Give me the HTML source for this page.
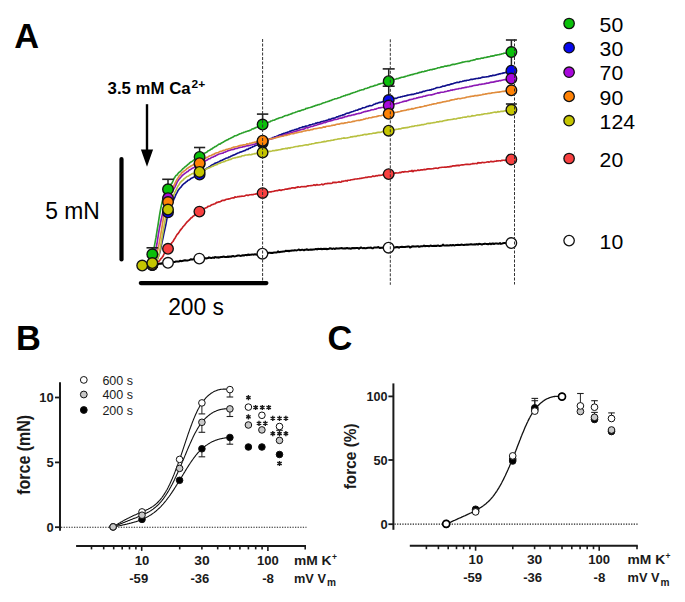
<!DOCTYPE html>
<html><head><meta charset="utf-8"><style>
html,body{margin:0;padding:0;background:#fff;width:685px;height:602px;overflow:hidden;position:relative}
</style></head><body>
<svg width="685" height="602" viewBox="0 0 685 602" style="position:absolute;left:0;top:0">
<rect width="685" height="602" fill="#fff"/>
<text x="14.2" y="47.6" font-family="'Liberation Sans', sans-serif" font-weight="bold" font-size="34.4">A</text>
<text x="16" y="349.9" font-family="'Liberation Sans', sans-serif" font-weight="bold" font-size="34.4">B</text>
<text x="327.5" y="349.7" font-family="'Liberation Sans', sans-serif" font-weight="bold" font-size="34.4">C</text>
<path d="M140.0,266.0 L141.0,266.0 L142.0,266.1 L143.0,265.9 L144.0,265.7 L145.0,265.9 L146.0,266.0 L147.0,265.8 L148.0,265.3 L149.0,265.0 L150.0,265.1 L151.0,265.1 L152.0,264.4 L153.0,264.8 L154.0,264.3 L155.0,264.2 L156.0,264.0 L157.0,263.9 L158.0,263.9 L159.0,263.9 L160.0,263.5 L161.0,263.8 L162.0,263.2 L163.0,263.4 L164.0,263.4 L165.0,263.1 L166.0,262.8 L167.0,262.7 L168.0,262.7 L169.0,262.7 L170.0,262.3 L171.0,262.3 L172.0,262.2 L173.0,262.2 L174.0,262.0 L175.0,261.9 L176.0,261.4 L177.0,261.4 L178.0,261.5 L179.0,261.5 L180.0,260.7 L181.0,261.2 L182.0,261.1 L183.0,260.8 L184.0,260.5 L185.0,260.2 L186.0,260.5 L187.0,260.5 L188.0,260.4 L189.0,260.1 L190.0,259.7 L191.0,259.2 L192.0,259.4 L193.0,259.4 L194.0,258.8 L195.0,259.1 L196.0,259.0 L197.0,259.0 L198.0,258.4 L199.0,258.5 L200.0,258.4 L201.0,258.2 L202.0,258.8 L203.0,258.2 L204.0,258.3 L205.0,258.1 L206.0,258.5 L207.0,258.3 L208.0,258.1 L209.0,257.3 L210.0,257.8 L211.0,257.9 L212.0,257.9 L213.0,257.4 L214.0,258.0 L215.0,257.1 L216.0,257.2 L217.0,257.6 L218.0,257.3 L219.0,257.7 L220.0,257.2 L221.0,257.0 L222.0,257.0 L223.0,256.7 L224.0,256.6 L225.0,257.0 L226.0,256.9 L227.0,257.0 L228.0,256.5 L229.0,257.0 L230.0,256.4 L231.0,256.8 L232.0,256.2 L233.0,256.1 L234.0,256.3 L235.0,256.4 L236.0,256.1 L237.0,255.8 L238.0,255.5 L239.0,255.4 L240.0,255.8 L241.0,255.9 L242.0,255.5 L243.0,255.2 L244.0,255.6 L245.0,255.0 L246.0,255.0 L247.0,255.3 L248.0,254.5 L249.0,255.0 L250.0,254.7 L251.0,254.8 L252.0,254.6 L253.0,254.6 L254.0,254.7 L255.0,254.2 L256.0,254.7 L257.0,254.4 L258.0,254.3 L259.0,254.3 L260.0,254.1 L261.0,254.0 L262.0,253.8 L263.0,253.3 L264.0,253.5 L265.0,253.3 L266.0,253.0 L267.0,253.3 L268.0,253.0 L269.0,252.8 L270.0,252.7 L271.0,252.9 L272.0,252.8 L273.0,252.9 L274.0,252.5 L275.0,252.6 L276.0,252.6 L277.0,252.4 L278.0,251.4 L279.0,252.2 L280.0,251.9 L281.0,251.8 L282.0,251.7 L283.0,251.6 L284.0,251.5 L285.0,251.2 L286.0,250.7 L287.0,251.1 L288.0,250.8 L289.0,251.2 L290.0,250.8 L291.0,250.8 L292.0,250.5 L293.0,250.5 L294.0,250.5 L295.0,250.1 L296.0,250.4 L297.0,250.2 L298.0,249.9 L299.0,249.5 L300.0,250.2 L301.0,249.9 L302.0,249.8 L303.0,249.8 L304.0,250.3 L305.0,249.7 L306.0,249.7 L307.0,249.3 L308.0,250.0 L309.0,249.8 L310.0,249.8 L311.0,249.5 L312.0,249.7 L313.0,249.5 L314.0,249.5 L315.0,249.3 L316.0,248.9 L317.0,249.5 L318.0,248.7 L319.0,249.1 L320.0,249.0 L321.0,248.8 L322.0,249.2 L323.0,248.9 L324.0,248.8 L325.0,249.0 L326.0,248.8 L327.0,249.2 L328.0,248.9 L329.0,248.7 L330.0,248.3 L331.0,248.4 L332.0,249.0 L333.0,248.6 L334.0,248.6 L335.0,249.0 L336.0,248.3 L337.0,248.4 L338.0,248.4 L339.0,248.6 L340.0,248.3 L341.0,248.3 L342.0,248.0 L343.0,248.6 L344.0,248.6 L345.0,248.2 L346.0,248.4 L347.0,248.0 L348.0,248.2 L349.0,248.6 L350.0,248.3 L351.0,248.8 L352.0,248.0 L353.0,248.3 L354.0,248.1 L355.0,248.3 L356.0,248.1 L357.0,248.0 L358.0,247.9 L359.0,248.8 L360.0,248.0 L361.0,247.5 L362.0,247.9 L363.0,248.2 L364.0,247.9 L365.0,248.3 L366.0,248.2 L367.0,247.9 L368.0,247.8 L369.0,247.7 L370.0,247.7 L371.0,247.5 L372.0,248.2 L373.0,248.3 L374.0,247.5 L375.0,247.5 L376.0,247.4 L377.0,247.6 L378.0,247.0 L379.0,247.5 L380.0,248.1 L381.0,247.6 L382.0,247.9 L383.0,247.5 L384.0,248.1 L385.0,247.7 L386.0,247.5 L387.0,248.2 L388.0,247.4 L389.0,247.2 L390.0,247.5 L391.0,247.4 L392.0,247.7 L393.0,247.1 L394.0,247.5 L395.0,247.5 L396.0,247.1 L397.0,247.3 L398.0,247.0 L399.0,247.7 L400.0,247.0 L401.0,247.0 L402.0,246.8 L403.0,246.9 L404.0,247.0 L405.0,247.1 L406.0,246.8 L407.0,246.8 L408.0,246.5 L409.0,246.6 L410.0,247.5 L411.0,247.0 L412.0,246.5 L413.0,246.3 L414.0,246.4 L415.0,246.6 L416.0,246.6 L417.0,246.3 L418.0,246.2 L419.0,246.8 L420.0,246.5 L421.0,246.3 L422.0,246.3 L423.0,246.2 L424.0,245.5 L425.0,246.3 L426.0,245.9 L427.0,245.9 L428.0,246.0 L429.0,246.3 L430.0,245.8 L431.0,245.6 L432.0,246.1 L433.0,246.1 L434.0,245.7 L435.0,246.0 L436.0,245.7 L437.0,245.9 L438.0,245.4 L439.0,245.9 L440.0,246.0 L441.0,245.8 L442.0,245.7 L443.0,244.6 L444.0,245.6 L445.0,245.5 L446.0,245.4 L447.0,245.3 L448.0,245.4 L449.0,245.4 L450.0,245.2 L451.0,245.1 L452.0,245.5 L453.0,244.9 L454.0,245.4 L455.0,245.2 L456.0,244.9 L457.0,245.0 L458.0,244.8 L459.0,245.1 L460.0,245.0 L461.0,244.8 L462.0,244.6 L463.0,244.9 L464.0,245.0 L465.0,244.7 L466.0,244.8 L467.0,244.6 L468.0,244.7 L469.0,244.5 L470.0,244.6 L471.0,244.1 L472.0,244.6 L473.0,244.4 L474.0,244.5 L475.0,244.3 L476.0,244.4 L477.0,244.0 L478.0,244.6 L479.0,243.8 L480.0,243.9 L481.0,244.2 L482.0,244.5 L483.0,244.1 L484.0,244.0 L485.0,243.6 L486.0,243.9 L487.0,243.9 L488.0,244.3 L489.0,244.0 L490.0,243.4 L491.0,244.3 L492.0,243.6 L493.0,243.5 L494.0,244.0 L495.0,243.6 L496.0,243.5 L497.0,243.6 L498.0,243.7 L499.0,243.7 L500.0,243.1 L501.0,243.9 L502.0,243.6 L503.0,243.2 L504.0,243.1 L505.0,243.0 L506.0,243.2 L507.0,243.0 L508.0,242.9 L509.0,243.3 L510.0,243.1 L511.0,242.9 L511.3,243.2" fill="none" stroke="#000000" stroke-width="2.0" stroke-linejoin="round"/>
<path d="M140.0,266.1 L141.0,266.2 L142.0,266.1 L143.0,265.6 L144.0,266.2 L145.0,266.0 L146.0,265.7 L147.0,266.0 L148.0,265.9 L149.0,265.8 L150.0,265.7 L151.0,265.7 L152.0,265.3 L153.0,265.3 L154.0,264.8 L155.0,264.5 L156.0,263.7 L157.0,262.9 L158.0,262.0 L159.0,261.1 L160.0,260.0 L161.0,258.6 L162.0,257.6 L163.0,256.3 L164.0,254.0 L165.0,252.8 L166.0,251.7 L167.0,250.2 L168.0,248.9 L169.0,247.3 L170.0,246.3 L171.0,243.9 L172.0,242.5 L173.0,241.5 L174.0,239.6 L175.0,238.2 L176.0,236.4 L177.0,234.7 L178.0,233.7 L179.0,232.3 L180.0,230.6 L181.0,229.4 L182.0,228.2 L183.0,226.8 L184.0,225.7 L185.0,224.6 L186.0,223.3 L187.0,222.0 L188.0,221.2 L189.0,220.2 L190.0,219.1 L191.0,217.9 L192.0,217.4 L193.0,216.2 L194.0,215.7 L195.0,214.4 L196.0,214.2 L197.0,213.2 L198.0,212.2 L199.0,211.8 L200.0,211.2 L201.0,210.7 L202.0,209.8 L203.0,209.1 L204.0,208.9 L205.0,208.2 L206.0,207.8 L207.0,207.4 L208.0,206.3 L209.0,206.3 L210.0,206.0 L211.0,205.2 L212.0,204.6 L213.0,204.5 L214.0,204.0 L215.0,203.7 L216.0,203.0 L217.0,202.3 L218.0,202.3 L219.0,201.8 L220.0,201.8 L221.0,201.3 L222.0,200.5 L223.0,200.2 L224.0,200.4 L225.0,200.1 L226.0,199.4 L227.0,199.3 L228.0,199.1 L229.0,198.9 L230.0,198.7 L231.0,198.3 L232.0,198.0 L233.0,197.8 L234.0,197.9 L235.0,196.8 L236.0,197.2 L237.0,197.0 L238.0,196.5 L239.0,196.8 L240.0,196.3 L241.0,196.5 L242.0,196.1 L243.0,196.2 L244.0,196.1 L245.0,195.8 L246.0,195.3 L247.0,195.0 L248.0,195.6 L249.0,195.0 L250.0,194.7 L251.0,194.8 L252.0,194.5 L253.0,194.7 L254.0,194.3 L255.0,194.2 L256.0,193.9 L257.0,194.0 L258.0,193.5 L259.0,193.8 L260.0,193.9 L261.0,193.0 L262.0,192.6 L263.0,193.2 L264.0,193.5 L265.0,192.5 L266.0,192.3 L267.0,192.6 L268.0,192.0 L269.0,192.0 L270.0,191.8 L271.0,191.9 L272.0,191.5 L273.0,191.5 L274.0,191.2 L275.0,190.9 L276.0,190.8 L277.0,190.5 L278.0,190.6 L279.0,190.1 L280.0,189.9 L281.0,190.4 L282.0,189.9 L283.0,189.7 L284.0,189.7 L285.0,189.3 L286.0,189.1 L287.0,189.1 L288.0,188.9 L289.0,188.4 L290.0,188.7 L291.0,188.2 L292.0,187.9 L293.0,187.8 L294.0,187.8 L295.0,188.1 L296.0,187.3 L297.0,187.5 L298.0,186.8 L299.0,187.1 L300.0,187.2 L301.0,186.8 L302.0,186.6 L303.0,186.7 L304.0,186.6 L305.0,186.5 L306.0,186.7 L307.0,186.1 L308.0,185.8 L309.0,185.8 L310.0,185.7 L311.0,185.6 L312.0,185.5 L313.0,185.4 L314.0,184.8 L315.0,185.4 L316.0,184.9 L317.0,184.6 L318.0,185.0 L319.0,185.0 L320.0,184.7 L321.0,184.5 L322.0,184.1 L323.0,184.9 L324.0,184.3 L325.0,183.7 L326.0,183.6 L327.0,183.7 L328.0,183.2 L329.0,183.5 L330.0,183.2 L331.0,183.5 L332.0,183.3 L333.0,182.2 L334.0,182.7 L335.0,182.2 L336.0,182.7 L337.0,182.3 L338.0,182.2 L339.0,181.7 L340.0,182.2 L341.0,182.1 L342.0,181.2 L343.0,181.4 L344.0,181.0 L345.0,181.0 L346.0,180.5 L347.0,181.1 L348.0,180.2 L349.0,180.2 L350.0,180.3 L351.0,179.8 L352.0,179.7 L353.0,179.5 L354.0,179.4 L355.0,179.0 L356.0,179.0 L357.0,178.9 L358.0,178.7 L359.0,178.7 L360.0,178.4 L361.0,178.5 L362.0,178.1 L363.0,178.0 L364.0,177.7 L365.0,177.6 L366.0,177.2 L367.0,177.5 L368.0,177.0 L369.0,176.9 L370.0,177.0 L371.0,176.9 L372.0,176.5 L373.0,175.9 L374.0,176.4 L375.0,176.2 L376.0,175.6 L377.0,176.0 L378.0,175.5 L379.0,175.2 L380.0,175.4 L381.0,175.2 L382.0,175.1 L383.0,174.5 L384.0,175.2 L385.0,174.5 L386.0,174.1 L387.0,174.5 L388.0,174.1 L389.0,174.1 L390.0,173.8 L391.0,173.8 L392.0,173.7 L393.0,173.3 L394.0,173.5 L395.0,173.1 L396.0,172.9 L397.0,173.0 L398.0,173.0 L399.0,172.7 L400.0,172.4 L401.0,172.6 L402.0,171.9 L403.0,171.9 L404.0,172.1 L405.0,171.6 L406.0,171.8 L407.0,171.7 L408.0,171.8 L409.0,171.2 L410.0,171.1 L411.0,171.3 L412.0,170.4 L413.0,171.7 L414.0,170.6 L415.0,170.5 L416.0,170.8 L417.0,170.4 L418.0,169.9 L419.0,170.4 L420.0,170.3 L421.0,169.8 L422.0,169.8 L423.0,169.8 L424.0,169.4 L425.0,169.6 L426.0,169.4 L427.0,169.1 L428.0,168.8 L429.0,168.9 L430.0,168.7 L431.0,169.0 L432.0,168.7 L433.0,168.7 L434.0,168.4 L435.0,168.3 L436.0,168.0 L437.0,168.2 L438.0,168.4 L439.0,167.7 L440.0,167.5 L441.0,167.5 L442.0,167.3 L443.0,167.2 L444.0,167.2 L445.0,167.0 L446.0,167.3 L447.0,166.9 L448.0,166.8 L449.0,166.9 L450.0,166.4 L451.0,166.7 L452.0,166.1 L453.0,165.9 L454.0,165.9 L455.0,165.9 L456.0,165.4 L457.0,165.7 L458.0,165.1 L459.0,165.8 L460.0,165.3 L461.0,165.0 L462.0,164.8 L463.0,164.9 L464.0,164.8 L465.0,164.5 L466.0,164.4 L467.0,164.4 L468.0,164.2 L469.0,164.5 L470.0,164.4 L471.0,164.0 L472.0,164.0 L473.0,163.4 L474.0,163.8 L475.0,163.5 L476.0,163.5 L477.0,163.7 L478.0,162.6 L479.0,163.1 L480.0,162.7 L481.0,163.0 L482.0,162.4 L483.0,162.5 L484.0,162.6 L485.0,162.5 L486.0,162.3 L487.0,162.0 L488.0,161.9 L489.0,162.1 L490.0,161.8 L491.0,161.3 L492.0,161.8 L493.0,161.6 L494.0,161.6 L495.0,161.2 L496.0,161.3 L497.0,160.7 L498.0,161.0 L499.0,160.7 L500.0,160.8 L501.0,160.8 L502.0,160.3 L503.0,160.3 L504.0,160.2 L505.0,160.4 L506.0,160.2 L507.0,159.6 L508.0,159.9 L509.0,159.8 L510.0,160.1 L511.0,159.0 L511.3,159.3" fill="none" stroke="#c81e23" stroke-width="1.65" stroke-linejoin="round"/>
<path d="M140.0,266.0 L141.0,265.9 L142.0,265.9 L143.0,265.6 L144.0,266.2 L145.0,266.0 L146.0,265.8 L147.0,265.9 L148.0,265.7 L149.0,265.5 L150.0,265.6 L151.0,265.3 L152.0,265.0 L153.0,264.6 L154.0,264.3 L155.0,263.6 L156.0,262.3 L157.0,260.1 L158.0,257.7 L159.0,254.9 L160.0,251.7 L161.0,247.1 L162.0,242.4 L163.0,237.8 L164.0,232.9 L165.0,228.5 L166.0,223.8 L167.0,218.1 L168.0,213.7 L169.0,210.7 L170.0,208.5 L171.0,206.0 L172.0,203.7 L173.0,201.4 L174.0,199.0 L175.0,196.8 L176.0,194.4 L177.0,192.6 L178.0,190.6 L179.0,189.3 L180.0,188.0 L181.0,187.1 L182.0,185.6 L183.0,184.5 L184.0,183.6 L185.0,183.0 L186.0,182.0 L187.0,181.4 L188.0,180.2 L189.0,180.0 L190.0,179.4 L191.0,178.4 L192.0,178.0 L193.0,177.6 L194.0,176.9 L195.0,176.5 L196.0,176.2 L197.0,175.4 L198.0,174.8 L199.0,174.1 L200.0,173.7 L201.0,172.9 L202.0,172.2 L203.0,171.5 L204.0,170.8 L205.0,169.8 L206.0,168.9 L207.0,168.0 L208.0,167.8 L209.0,167.0 L210.0,166.5 L211.0,165.7 L212.0,165.0 L213.0,164.6 L214.0,164.0 L215.0,163.3 L216.0,162.9 L217.0,162.8 L218.0,162.1 L219.0,161.7 L220.0,161.1 L221.0,160.6 L222.0,160.3 L223.0,159.7 L224.0,159.2 L225.0,158.8 L226.0,158.3 L227.0,158.0 L228.0,157.7 L229.0,157.0 L230.0,156.9 L231.0,156.1 L232.0,155.8 L233.0,155.2 L234.0,154.9 L235.0,154.5 L236.0,154.0 L237.0,153.5 L238.0,153.1 L239.0,152.7 L240.0,152.1 L241.0,151.9 L242.0,151.6 L243.0,151.2 L244.0,150.8 L245.0,150.6 L246.0,149.9 L247.0,149.3 L248.0,149.3 L249.0,148.4 L250.0,148.3 L251.0,147.5 L252.0,147.3 L253.0,146.5 L254.0,146.4 L255.0,145.8 L256.0,145.2 L257.0,145.1 L258.0,144.4 L259.0,143.8 L260.0,143.1 L261.0,142.7 L262.0,142.2 L263.0,141.9 L264.0,141.5 L265.0,140.9 L266.0,140.4 L267.0,140.0 L268.0,139.5 L269.0,139.2 L270.0,138.8 L271.0,138.5 L272.0,138.2 L273.0,137.5 L274.0,137.3 L275.0,136.8 L276.0,136.8 L277.0,136.1 L278.0,135.8 L279.0,135.2 L280.0,134.8 L281.0,134.6 L282.0,134.1 L283.0,133.9 L284.0,133.2 L285.0,133.2 L286.0,132.6 L287.0,132.7 L288.0,132.0 L289.0,131.9 L290.0,131.1 L291.0,131.1 L292.0,130.5 L293.0,130.2 L294.0,130.0 L295.0,129.6 L296.0,129.4 L297.0,129.1 L298.0,128.8 L299.0,128.3 L300.0,127.8 L301.0,127.6 L302.0,127.3 L303.0,126.7 L304.0,126.9 L305.0,126.4 L306.0,126.1 L307.0,126.0 L308.0,125.7 L309.0,125.3 L310.0,124.8 L311.0,124.8 L312.0,124.5 L313.0,124.0 L314.0,124.0 L315.0,123.7 L316.0,123.0 L317.0,123.1 L318.0,122.6 L319.0,122.7 L320.0,122.4 L321.0,121.8 L322.0,121.5 L323.0,121.4 L324.0,121.1 L325.0,121.0 L326.0,120.6 L327.0,120.2 L328.0,120.0 L329.0,119.3 L330.0,119.3 L331.0,119.1 L332.0,118.6 L333.0,118.2 L334.0,118.1 L335.0,118.0 L336.0,117.4 L337.0,116.8 L338.0,116.9 L339.0,116.0 L340.0,116.0 L341.0,115.5 L342.0,115.4 L343.0,114.8 L344.0,114.8 L345.0,114.2 L346.0,113.6 L347.0,113.2 L348.0,113.1 L349.0,113.0 L350.0,112.4 L351.0,112.1 L352.0,111.7 L353.0,111.5 L354.0,111.1 L355.0,110.7 L356.0,110.2 L357.0,110.2 L358.0,109.9 L359.0,109.1 L360.0,109.3 L361.0,108.8 L362.0,108.3 L363.0,107.7 L364.0,107.8 L365.0,107.4 L366.0,106.9 L367.0,106.4 L368.0,106.5 L369.0,105.9 L370.0,105.6 L371.0,105.8 L372.0,105.4 L373.0,104.9 L374.0,104.3 L375.0,104.2 L376.0,103.4 L377.0,103.5 L378.0,103.0 L379.0,102.6 L380.0,102.3 L381.0,102.3 L382.0,101.9 L383.0,101.6 L384.0,101.5 L385.0,100.9 L386.0,100.6 L387.0,100.2 L388.0,100.1 L389.0,100.0 L390.0,99.6 L391.0,99.5 L392.0,98.9 L393.0,98.8 L394.0,98.5 L395.0,98.2 L396.0,98.4 L397.0,98.0 L398.0,97.5 L399.0,97.3 L400.0,97.2 L401.0,96.7 L402.0,96.8 L403.0,96.3 L404.0,96.2 L405.0,95.9 L406.0,95.7 L407.0,95.4 L408.0,95.1 L409.0,95.0 L410.0,94.8 L411.0,94.6 L412.0,94.4 L413.0,94.4 L414.0,94.1 L415.0,93.7 L416.0,93.6 L417.0,93.1 L418.0,93.2 L419.0,92.8 L420.0,92.3 L421.0,92.4 L422.0,92.1 L423.0,91.3 L424.0,91.4 L425.0,91.1 L426.0,90.7 L427.0,90.5 L428.0,90.3 L429.0,90.2 L430.0,89.9 L431.0,90.0 L432.0,89.3 L433.0,89.2 L434.0,88.8 L435.0,88.5 L436.0,88.0 L437.0,87.6 L438.0,87.5 L439.0,87.5 L440.0,87.3 L441.0,86.9 L442.0,86.6 L443.0,86.1 L444.0,86.2 L445.0,85.9 L446.0,85.4 L447.0,85.2 L448.0,84.8 L449.0,84.9 L450.0,84.4 L451.0,84.1 L452.0,83.9 L453.0,83.7 L454.0,83.3 L455.0,82.9 L456.0,82.7 L457.0,82.3 L458.0,82.4 L459.0,82.5 L460.0,81.6 L461.0,81.7 L462.0,81.5 L463.0,81.1 L464.0,81.0 L465.0,80.6 L466.0,80.8 L467.0,80.3 L468.0,80.2 L469.0,80.1 L470.0,79.7 L471.0,79.3 L472.0,79.3 L473.0,79.3 L474.0,79.0 L475.0,78.9 L476.0,78.5 L477.0,78.5 L478.0,78.4 L479.0,78.1 L480.0,78.2 L481.0,77.7 L482.0,77.4 L483.0,77.1 L484.0,77.3 L485.0,77.0 L486.0,76.9 L487.0,76.7 L488.0,76.6 L489.0,76.4 L490.0,75.9 L491.0,75.8 L492.0,75.8 L493.0,75.2 L494.0,75.4 L495.0,75.2 L496.0,74.9 L497.0,74.5 L498.0,74.4 L499.0,73.9 L500.0,73.9 L501.0,73.5 L502.0,73.4 L503.0,73.1 L504.0,72.9 L505.0,72.8 L506.0,72.2 L507.0,72.2 L508.0,71.5 L509.0,71.1 L510.0,71.1 L511.0,70.8 L511.4,70.8" fill="none" stroke="#10108c" stroke-width="1.65" stroke-linejoin="round"/>
<path d="M140.0,266.3 L141.0,265.6 L142.0,266.0 L143.0,265.9 L144.0,265.9 L145.0,265.8 L146.0,265.5 L147.0,265.7 L148.0,265.5 L149.0,266.0 L150.0,264.2 L151.0,260.9 L152.0,257.1 L153.0,253.1 L154.0,248.1 L155.0,242.9 L156.0,237.4 L157.0,231.1 L158.0,225.1 L159.0,218.7 L160.0,212.5 L161.0,207.2 L162.0,202.7 L163.0,198.7 L164.0,195.3 L165.0,192.2 L166.0,190.4 L167.0,188.7 L168.0,187.6 L169.0,186.7 L170.0,185.2 L171.0,184.2 L172.0,183.1 L173.0,181.0 L174.0,178.5 L175.0,177.1 L176.0,175.4 L177.0,174.9 L178.0,173.5 L179.0,172.4 L180.0,171.7 L181.0,170.8 L182.0,169.7 L183.0,168.6 L184.0,167.8 L185.0,166.9 L186.0,166.2 L187.0,165.3 L188.0,164.4 L189.0,163.7 L190.0,162.7 L191.0,161.9 L192.0,161.4 L193.0,160.7 L194.0,159.9 L195.0,159.2 L196.0,158.7 L197.0,157.6 L198.0,157.5 L199.0,156.8 L200.0,155.9 L201.0,155.5 L202.0,154.7 L203.0,154.4 L204.0,153.4 L205.0,152.9 L206.0,152.5 L207.0,152.0 L208.0,150.9 L209.0,150.5 L210.0,150.0 L211.0,149.2 L212.0,148.9 L213.0,147.9 L214.0,147.5 L215.0,146.6 L216.0,146.4 L217.0,145.6 L218.0,144.9 L219.0,144.1 L220.0,144.1 L221.0,143.3 L222.0,142.8 L223.0,142.3 L224.0,141.6 L225.0,141.0 L226.0,140.4 L227.0,139.9 L228.0,139.7 L229.0,138.8 L230.0,138.4 L231.0,137.9 L232.0,137.5 L233.0,137.1 L234.0,136.3 L235.0,135.8 L236.0,135.6 L237.0,135.3 L238.0,134.8 L239.0,134.3 L240.0,133.8 L241.0,133.5 L242.0,133.0 L243.0,132.8 L244.0,132.2 L245.0,132.0 L246.0,131.6 L247.0,131.3 L248.0,130.9 L249.0,130.9 L250.0,130.3 L251.0,129.9 L252.0,129.0 L253.0,128.9 L254.0,128.4 L255.0,128.1 L256.0,127.3 L257.0,127.3 L258.0,126.8 L259.0,126.0 L260.0,125.5 L261.0,125.1 L262.0,124.8 L263.0,124.4 L264.0,124.2 L265.0,123.5 L266.0,123.2 L267.0,122.7 L268.0,122.6 L269.0,122.0 L270.0,121.7 L271.0,121.0 L272.0,120.7 L273.0,120.2 L274.0,120.2 L275.0,119.7 L276.0,119.2 L277.0,118.8 L278.0,118.6 L279.0,118.0 L280.0,117.7 L281.0,117.5 L282.0,117.4 L283.0,116.7 L284.0,116.3 L285.0,115.8 L286.0,115.5 L287.0,115.4 L288.0,115.1 L289.0,114.6 L290.0,114.3 L291.0,113.9 L292.0,113.6 L293.0,113.0 L294.0,112.8 L295.0,112.5 L296.0,112.0 L297.0,111.7 L298.0,111.3 L299.0,111.1 L300.0,110.9 L301.0,110.4 L302.0,110.0 L303.0,109.9 L304.0,109.5 L305.0,109.3 L306.0,108.4 L307.0,108.5 L308.0,108.0 L309.0,107.7 L310.0,107.5 L311.0,107.2 L312.0,106.9 L313.0,106.4 L314.0,106.3 L315.0,105.7 L316.0,105.4 L317.0,105.2 L318.0,104.6 L319.0,104.7 L320.0,104.2 L321.0,104.0 L322.0,103.4 L323.0,103.0 L324.0,102.7 L325.0,102.5 L326.0,102.0 L327.0,101.8 L328.0,101.4 L329.0,101.3 L330.0,100.6 L331.0,100.5 L332.0,99.9 L333.0,99.5 L334.0,99.2 L335.0,98.8 L336.0,98.7 L337.0,98.5 L338.0,98.0 L339.0,97.7 L340.0,97.5 L341.0,97.0 L342.0,96.6 L343.0,96.2 L344.0,95.7 L345.0,95.7 L346.0,95.0 L347.0,95.0 L348.0,94.5 L349.0,94.4 L350.0,93.9 L351.0,93.4 L352.0,93.2 L353.0,92.8 L354.0,92.5 L355.0,92.2 L356.0,91.8 L357.0,91.5 L358.0,91.0 L359.0,90.8 L360.0,90.2 L361.0,90.1 L362.0,89.7 L363.0,89.7 L364.0,89.4 L365.0,88.5 L366.0,88.5 L367.0,88.2 L368.0,87.7 L369.0,87.6 L370.0,87.1 L371.0,86.6 L372.0,86.5 L373.0,86.2 L374.0,85.9 L375.0,85.3 L376.0,85.3 L377.0,85.0 L378.0,84.4 L379.0,84.1 L380.0,83.9 L381.0,83.5 L382.0,83.5 L383.0,83.0 L384.0,82.5 L385.0,82.2 L386.0,82.0 L387.0,82.1 L388.0,81.4 L389.0,81.1 L390.0,80.9 L391.0,80.5 L392.0,80.6 L393.0,79.8 L394.0,79.7 L395.0,79.3 L396.0,79.1 L397.0,78.6 L398.0,78.7 L399.0,78.1 L400.0,77.9 L401.0,77.4 L402.0,77.2 L403.0,77.1 L404.0,76.9 L405.0,76.6 L406.0,76.3 L407.0,76.0 L408.0,75.6 L409.0,75.5 L410.0,75.1 L411.0,74.8 L412.0,74.6 L413.0,74.4 L414.0,74.0 L415.0,73.7 L416.0,73.5 L417.0,73.5 L418.0,72.9 L419.0,72.6 L420.0,72.4 L421.0,72.3 L422.0,71.6 L423.0,71.7 L424.0,71.6 L425.0,71.0 L426.0,71.1 L427.0,70.7 L428.0,70.3 L429.0,70.2 L430.0,69.7 L431.0,69.6 L432.0,69.7 L433.0,69.1 L434.0,69.2 L435.0,68.7 L436.0,68.6 L437.0,68.2 L438.0,67.7 L439.0,67.7 L440.0,67.6 L441.0,67.1 L442.0,66.9 L443.0,66.9 L444.0,66.5 L445.0,66.1 L446.0,66.1 L447.0,66.1 L448.0,65.6 L449.0,65.6 L450.0,65.5 L451.0,65.0 L452.0,64.6 L453.0,64.4 L454.0,64.3 L455.0,64.3 L456.0,63.9 L457.0,63.8 L458.0,63.4 L459.0,63.3 L460.0,62.9 L461.0,62.7 L462.0,62.4 L463.0,62.1 L464.0,62.0 L465.0,61.7 L466.0,61.5 L467.0,61.5 L468.0,61.2 L469.0,61.4 L470.0,60.9 L471.0,60.5 L472.0,60.4 L473.0,60.2 L474.0,59.8 L475.0,59.8 L476.0,59.3 L477.0,58.8 L478.0,59.1 L479.0,58.7 L480.0,58.8 L481.0,58.3 L482.0,58.0 L483.0,58.2 L484.0,57.6 L485.0,57.5 L486.0,57.5 L487.0,57.1 L488.0,56.9 L489.0,56.7 L490.0,56.6 L491.0,56.1 L492.0,56.1 L493.0,55.9 L494.0,55.9 L495.0,55.3 L496.0,55.0 L497.0,55.1 L498.0,54.7 L499.0,54.6 L500.0,54.4 L501.0,54.3 L502.0,53.8 L503.0,53.7 L504.0,53.1 L505.0,53.2 L506.0,53.3 L507.0,52.8 L508.0,52.6 L509.0,52.3 L510.0,52.4 L511.0,52.1 L511.4,51.8" fill="none" stroke="#2aa02a" stroke-width="1.65" stroke-linejoin="round"/>
<path d="M140.0,265.9 L141.0,266.0 L142.0,266.2 L143.0,266.1 L144.0,265.7 L145.0,265.9 L146.0,265.7 L147.0,265.8 L148.0,265.5 L149.0,265.6 L150.0,265.5 L151.0,265.2 L152.0,263.7 L153.0,262.1 L154.0,258.7 L155.0,254.5 L156.0,248.7 L157.0,243.5 L158.0,236.9 L159.0,230.6 L160.0,225.3 L161.0,220.5 L162.0,216.1 L163.0,211.8 L164.0,208.0 L165.0,203.8 L166.0,201.0 L167.0,198.5 L168.0,196.8 L169.0,194.7 L170.0,193.6 L171.0,192.5 L172.0,191.2 L173.0,190.4 L174.0,188.7 L175.0,186.8 L176.0,184.6 L177.0,182.4 L178.0,180.7 L179.0,179.3 L180.0,178.1 L181.0,177.0 L182.0,175.8 L183.0,174.9 L184.0,174.1 L185.0,173.3 L186.0,172.6 L187.0,171.8 L188.0,171.4 L189.0,170.3 L190.0,169.7 L191.0,169.2 L192.0,168.4 L193.0,167.9 L194.0,167.5 L195.0,167.2 L196.0,166.4 L197.0,166.4 L198.0,165.7 L199.0,165.2 L200.0,164.8 L201.0,164.1 L202.0,163.4 L203.0,162.5 L204.0,161.8 L205.0,161.2 L206.0,160.4 L207.0,160.2 L208.0,159.3 L209.0,158.7 L210.0,158.7 L211.0,157.9 L212.0,157.3 L213.0,157.2 L214.0,156.4 L215.0,156.2 L216.0,155.5 L217.0,155.1 L218.0,154.5 L219.0,154.0 L220.0,153.8 L221.0,153.5 L222.0,153.3 L223.0,153.1 L224.0,152.2 L225.0,152.2 L226.0,151.6 L227.0,151.3 L228.0,150.8 L229.0,150.4 L230.0,150.2 L231.0,149.8 L232.0,149.7 L233.0,149.3 L234.0,149.3 L235.0,148.8 L236.0,148.5 L237.0,148.4 L238.0,148.0 L239.0,147.7 L240.0,147.4 L241.0,147.2 L242.0,147.1 L243.0,146.8 L244.0,146.6 L245.0,146.4 L246.0,146.0 L247.0,145.9 L248.0,145.4 L249.0,145.6 L250.0,145.2 L251.0,145.0 L252.0,144.8 L253.0,144.5 L254.0,144.2 L255.0,144.1 L256.0,143.6 L257.0,143.2 L258.0,143.1 L259.0,142.4 L260.0,142.6 L261.0,142.0 L262.0,141.7 L263.0,141.7 L264.0,141.4 L265.0,140.8 L266.0,140.5 L267.0,140.3 L268.0,140.1 L269.0,139.5 L270.0,139.2 L271.0,139.1 L272.0,138.6 L273.0,138.4 L274.0,138.1 L275.0,137.5 L276.0,137.2 L277.0,136.6 L278.0,136.7 L279.0,136.6 L280.0,135.9 L281.0,136.0 L282.0,135.6 L283.0,135.2 L284.0,134.9 L285.0,134.6 L286.0,134.1 L287.0,133.9 L288.0,133.7 L289.0,133.4 L290.0,133.2 L291.0,132.6 L292.0,132.6 L293.0,132.0 L294.0,131.8 L295.0,131.6 L296.0,131.2 L297.0,130.9 L298.0,130.6 L299.0,130.2 L300.0,129.9 L301.0,129.7 L302.0,129.5 L303.0,129.1 L304.0,129.1 L305.0,128.5 L306.0,127.7 L307.0,127.8 L308.0,127.8 L309.0,127.3 L310.0,126.9 L311.0,126.5 L312.0,126.5 L313.0,126.2 L314.0,125.8 L315.0,125.5 L316.0,125.3 L317.0,124.9 L318.0,124.3 L319.0,124.3 L320.0,123.9 L321.0,123.6 L322.0,123.4 L323.0,123.0 L324.0,122.3 L325.0,122.7 L326.0,122.3 L327.0,121.8 L328.0,121.5 L329.0,121.3 L330.0,120.8 L331.0,120.8 L332.0,120.4 L333.0,120.1 L334.0,119.7 L335.0,119.5 L336.0,119.5 L337.0,119.3 L338.0,118.9 L339.0,118.5 L340.0,118.1 L341.0,118.1 L342.0,118.0 L343.0,117.2 L344.0,117.4 L345.0,116.6 L346.0,116.6 L347.0,116.5 L348.0,115.9 L349.0,115.6 L350.0,115.6 L351.0,115.5 L352.0,115.0 L353.0,115.0 L354.0,114.5 L355.0,114.6 L356.0,114.1 L357.0,113.8 L358.0,113.6 L359.0,113.3 L360.0,113.3 L361.0,113.1 L362.0,112.6 L363.0,112.2 L364.0,111.8 L365.0,111.6 L366.0,111.4 L367.0,111.2 L368.0,110.9 L369.0,110.7 L370.0,110.5 L371.0,110.0 L372.0,109.7 L373.0,109.8 L374.0,109.5 L375.0,109.1 L376.0,109.1 L377.0,108.5 L378.0,108.3 L379.0,107.8 L380.0,108.0 L381.0,107.6 L382.0,107.5 L383.0,107.2 L384.0,106.8 L385.0,106.6 L386.0,106.5 L387.0,106.0 L388.0,105.8 L389.0,105.5 L390.0,105.4 L391.0,105.1 L392.0,105.0 L393.0,104.4 L394.0,104.4 L395.0,103.8 L396.0,103.7 L397.0,103.4 L398.0,103.3 L399.0,102.9 L400.0,102.5 L401.0,102.3 L402.0,102.0 L403.0,101.6 L404.0,101.4 L405.0,101.0 L406.0,101.3 L407.0,100.6 L408.0,100.5 L409.0,99.9 L410.0,99.6 L411.0,99.5 L412.0,99.2 L413.0,99.1 L414.0,98.6 L415.0,98.5 L416.0,98.4 L417.0,97.8 L418.0,97.8 L419.0,97.3 L420.0,97.3 L421.0,97.0 L422.0,97.0 L423.0,96.4 L424.0,96.3 L425.0,96.2 L426.0,95.6 L427.0,95.6 L428.0,95.2 L429.0,95.0 L430.0,95.0 L431.0,94.8 L432.0,94.8 L433.0,94.4 L434.0,94.2 L435.0,93.7 L436.0,93.5 L437.0,93.3 L438.0,92.8 L439.0,93.1 L440.0,92.6 L441.0,92.3 L442.0,92.2 L443.0,92.2 L444.0,92.0 L445.0,91.6 L446.0,91.5 L447.0,91.2 L448.0,90.8 L449.0,90.8 L450.0,90.6 L451.0,90.1 L452.0,90.3 L453.0,89.7 L454.0,89.8 L455.0,89.4 L456.0,89.2 L457.0,89.0 L458.0,89.0 L459.0,88.5 L460.0,88.5 L461.0,88.5 L462.0,88.0 L463.0,87.9 L464.0,87.8 L465.0,87.4 L466.0,87.4 L467.0,87.0 L468.0,87.0 L469.0,86.7 L470.0,86.3 L471.0,86.5 L472.0,86.1 L473.0,85.8 L474.0,85.5 L475.0,85.4 L476.0,85.3 L477.0,85.1 L478.0,85.0 L479.0,84.5 L480.0,84.4 L481.0,84.5 L482.0,84.1 L483.0,84.0 L484.0,84.0 L485.0,83.6 L486.0,83.4 L487.0,83.1 L488.0,83.2 L489.0,82.9 L490.0,82.4 L491.0,82.4 L492.0,82.0 L493.0,82.2 L494.0,81.9 L495.0,81.6 L496.0,81.4 L497.0,81.0 L498.0,81.2 L499.0,80.8 L500.0,80.6 L501.0,80.6 L502.0,80.2 L503.0,80.0 L504.0,79.8 L505.0,79.6 L506.0,79.9 L507.0,79.4 L508.0,79.2 L509.0,79.2 L510.0,78.4 L511.0,78.7 L511.4,78.6" fill="none" stroke="#8c18b4" stroke-width="1.65" stroke-linejoin="round"/>
<path d="M140.0,265.9 L141.0,265.8 L142.0,265.9 L143.0,266.0 L144.0,266.1 L145.0,265.9 L146.0,265.7 L147.0,265.6 L148.0,265.8 L149.0,265.8 L150.0,265.5 L151.0,265.0 L152.0,264.4 L153.0,263.8 L154.0,262.3 L155.0,259.7 L156.0,256.8 L157.0,252.9 L158.0,249.1 L159.0,244.2 L160.0,238.6 L161.0,233.1 L162.0,227.0 L163.0,220.7 L164.0,215.1 L165.0,209.9 L166.0,204.8 L167.0,201.1 L168.0,197.6 L169.0,195.0 L170.0,192.6 L171.0,191.0 L172.0,189.3 L173.0,187.5 L174.0,185.3 L175.0,183.3 L176.0,181.3 L177.0,179.4 L178.0,177.9 L179.0,176.2 L180.0,175.2 L181.0,174.0 L182.0,172.6 L183.0,172.0 L184.0,171.0 L185.0,170.4 L186.0,169.6 L187.0,168.5 L188.0,168.0 L189.0,167.3 L190.0,166.8 L191.0,165.9 L192.0,165.6 L193.0,164.9 L194.0,164.6 L195.0,164.1 L196.0,164.1 L197.0,163.6 L198.0,163.5 L199.0,162.8 L200.0,162.3 L201.0,161.6 L202.0,160.6 L203.0,159.9 L204.0,159.3 L205.0,158.4 L206.0,157.9 L207.0,157.3 L208.0,156.9 L209.0,156.3 L210.0,155.8 L211.0,155.4 L212.0,154.9 L213.0,154.4 L214.0,154.2 L215.0,153.5 L216.0,153.1 L217.0,152.7 L218.0,152.7 L219.0,152.1 L220.0,151.6 L221.0,151.2 L222.0,151.1 L223.0,150.6 L224.0,150.2 L225.0,150.1 L226.0,149.5 L227.0,149.3 L228.0,149.1 L229.0,148.7 L230.0,148.5 L231.0,148.4 L232.0,147.8 L233.0,147.4 L234.0,147.1 L235.0,147.0 L236.0,146.7 L237.0,146.6 L238.0,146.2 L239.0,145.9 L240.0,145.6 L241.0,145.4 L242.0,145.3 L243.0,144.9 L244.0,144.8 L245.0,144.8 L246.0,144.4 L247.0,143.8 L248.0,144.1 L249.0,143.7 L250.0,143.2 L251.0,143.3 L252.0,142.9 L253.0,142.6 L254.0,142.4 L255.0,142.1 L256.0,142.1 L257.0,142.0 L258.0,141.6 L259.0,141.5 L260.0,141.5 L261.0,140.9 L262.0,140.9 L263.0,140.6 L264.0,140.2 L265.0,140.0 L266.0,139.9 L267.0,139.8 L268.0,139.4 L269.0,139.3 L270.0,139.1 L271.0,138.8 L272.0,138.7 L273.0,138.4 L274.0,138.2 L275.0,138.1 L276.0,137.7 L277.0,137.4 L278.0,137.2 L279.0,136.8 L280.0,136.6 L281.0,136.5 L282.0,136.3 L283.0,136.2 L284.0,135.7 L285.0,135.2 L286.0,135.5 L287.0,135.2 L288.0,134.6 L289.0,134.7 L290.0,134.3 L291.0,133.8 L292.0,133.7 L293.0,133.5 L294.0,133.6 L295.0,133.0 L296.0,132.9 L297.0,132.6 L298.0,132.4 L299.0,132.1 L300.0,132.0 L301.0,131.9 L302.0,131.7 L303.0,131.2 L304.0,131.0 L305.0,130.9 L306.0,130.6 L307.0,130.4 L308.0,130.0 L309.0,130.4 L310.0,130.0 L311.0,129.5 L312.0,129.6 L313.0,129.4 L314.0,128.7 L315.0,128.7 L316.0,128.6 L317.0,128.5 L318.0,128.2 L319.0,128.0 L320.0,127.8 L321.0,127.9 L322.0,127.7 L323.0,127.1 L324.0,126.9 L325.0,127.2 L326.0,126.5 L327.0,126.3 L328.0,126.2 L329.0,126.1 L330.0,126.0 L331.0,125.7 L332.0,125.3 L333.0,125.3 L334.0,125.0 L335.0,125.1 L336.0,124.6 L337.0,124.2 L338.0,124.1 L339.0,124.3 L340.0,123.8 L341.0,123.4 L342.0,123.4 L343.0,123.3 L344.0,123.3 L345.0,122.8 L346.0,122.8 L347.0,122.7 L348.0,122.2 L349.0,122.1 L350.0,122.2 L351.0,122.0 L352.0,121.7 L353.0,121.4 L354.0,121.4 L355.0,121.0 L356.0,120.8 L357.0,120.5 L358.0,120.4 L359.0,120.2 L360.0,120.4 L361.0,119.8 L362.0,119.8 L363.0,119.6 L364.0,119.1 L365.0,119.1 L366.0,118.4 L367.0,118.5 L368.0,118.4 L369.0,117.7 L370.0,117.7 L371.0,117.8 L372.0,117.4 L373.0,117.1 L374.0,117.0 L375.0,116.7 L376.0,116.7 L377.0,116.4 L378.0,116.1 L379.0,115.8 L380.0,115.7 L381.0,115.7 L382.0,115.3 L383.0,115.1 L384.0,114.8 L385.0,114.4 L386.0,114.3 L387.0,114.3 L388.0,114.0 L389.0,113.6 L390.0,113.3 L391.0,113.3 L392.0,113.0 L393.0,112.8 L394.0,112.6 L395.0,112.5 L396.0,112.3 L397.0,112.2 L398.0,111.9 L399.0,111.8 L400.0,111.5 L401.0,111.1 L402.0,110.9 L403.0,110.8 L404.0,110.5 L405.0,110.4 L406.0,110.3 L407.0,109.8 L408.0,109.4 L409.0,109.6 L410.0,109.2 L411.0,109.1 L412.0,108.6 L413.0,108.9 L414.0,108.5 L415.0,108.2 L416.0,107.9 L417.0,107.8 L418.0,107.5 L419.0,107.3 L420.0,106.9 L421.0,107.1 L422.0,106.7 L423.0,106.5 L424.0,106.2 L425.0,105.7 L426.0,105.9 L427.0,105.5 L428.0,105.3 L429.0,105.1 L430.0,104.7 L431.0,104.8 L432.0,104.3 L433.0,104.1 L434.0,103.9 L435.0,103.8 L436.0,103.7 L437.0,103.2 L438.0,102.9 L439.0,103.0 L440.0,102.5 L441.0,102.6 L442.0,102.2 L443.0,101.9 L444.0,101.7 L445.0,101.6 L446.0,101.5 L447.0,101.1 L448.0,101.0 L449.0,101.0 L450.0,100.4 L451.0,100.1 L452.0,99.9 L453.0,99.7 L454.0,99.6 L455.0,99.3 L456.0,99.1 L457.0,99.1 L458.0,98.5 L459.0,98.5 L460.0,98.8 L461.0,98.5 L462.0,98.2 L463.0,98.0 L464.0,98.0 L465.0,97.7 L466.0,97.4 L467.0,97.0 L468.0,97.0 L469.0,96.8 L470.0,96.6 L471.0,96.4 L472.0,96.3 L473.0,96.1 L474.0,96.1 L475.0,95.6 L476.0,95.6 L477.0,95.8 L478.0,95.3 L479.0,95.3 L480.0,95.1 L481.0,95.0 L482.0,94.8 L483.0,94.3 L484.0,94.3 L485.0,94.1 L486.0,93.8 L487.0,93.8 L488.0,93.5 L489.0,93.3 L490.0,93.4 L491.0,93.2 L492.0,92.9 L493.0,92.8 L494.0,92.7 L495.0,92.5 L496.0,92.4 L497.0,92.3 L498.0,92.1 L499.0,92.1 L500.0,91.9 L501.0,91.8 L502.0,91.5 L503.0,91.3 L504.0,91.4 L505.0,91.1 L506.0,91.0 L507.0,90.5 L508.0,90.3 L509.0,90.7 L510.0,90.5 L511.0,90.6 L511.4,90.4" fill="none" stroke="#e08c3c" stroke-width="1.65" stroke-linejoin="round"/>
<path d="M138.0,266.2 L139.0,266.3 L140.0,265.6 L141.0,265.9 L142.0,266.1 L143.0,266.1 L144.0,266.0 L145.0,266.1 L146.0,265.8 L147.0,265.8 L148.0,265.7 L149.0,265.4 L150.0,265.4 L151.0,265.4 L152.0,264.9 L153.0,264.7 L154.0,264.2 L155.0,263.4 L156.0,261.8 L157.0,260.3 L158.0,257.8 L159.0,254.9 L160.0,250.0 L161.0,244.0 L162.0,237.8 L163.0,232.0 L164.0,226.4 L165.0,220.7 L166.0,215.7 L167.0,211.1 L168.0,207.6 L169.0,204.6 L170.0,202.1 L171.0,199.9 L172.0,198.3 L173.0,196.3 L174.0,194.5 L175.0,192.2 L176.0,190.2 L177.0,188.0 L178.0,186.0 L179.0,184.7 L180.0,182.9 L181.0,181.8 L182.0,180.8 L183.0,180.1 L184.0,178.9 L185.0,178.2 L186.0,177.4 L187.0,176.5 L188.0,176.2 L189.0,175.6 L190.0,174.9 L191.0,174.4 L192.0,173.8 L193.0,173.4 L194.0,173.3 L195.0,173.2 L196.0,172.8 L197.0,172.7 L198.0,172.6 L199.0,172.1 L200.0,171.9 L201.0,171.6 L202.0,170.8 L203.0,170.7 L204.0,169.8 L205.0,169.7 L206.0,169.3 L207.0,168.7 L208.0,168.2 L209.0,167.9 L210.0,167.4 L211.0,167.0 L212.0,166.4 L213.0,166.2 L214.0,165.5 L215.0,165.2 L216.0,164.7 L217.0,164.6 L218.0,163.7 L219.0,163.5 L220.0,163.3 L221.0,162.6 L222.0,162.2 L223.0,162.0 L224.0,161.6 L225.0,161.4 L226.0,160.7 L227.0,160.5 L228.0,160.2 L229.0,159.9 L230.0,159.3 L231.0,159.3 L232.0,158.6 L233.0,158.2 L234.0,158.0 L235.0,157.9 L236.0,157.5 L237.0,157.4 L238.0,157.1 L239.0,156.9 L240.0,156.5 L241.0,156.6 L242.0,155.8 L243.0,155.7 L244.0,155.6 L245.0,155.3 L246.0,155.0 L247.0,155.0 L248.0,154.9 L249.0,154.4 L250.0,154.7 L251.0,154.6 L252.0,154.4 L253.0,154.0 L254.0,153.9 L255.0,153.6 L256.0,153.6 L257.0,153.3 L258.0,153.3 L259.0,153.0 L260.0,153.1 L261.0,152.9 L262.0,152.8 L263.0,152.2 L264.0,152.0 L265.0,152.2 L266.0,151.8 L267.0,151.8 L268.0,151.6 L269.0,151.4 L270.0,151.4 L271.0,151.2 L272.0,151.0 L273.0,150.6 L274.0,150.8 L275.0,150.4 L276.0,150.4 L277.0,150.1 L278.0,150.1 L279.0,149.7 L280.0,149.6 L281.0,149.4 L282.0,149.1 L283.0,148.9 L284.0,148.8 L285.0,148.6 L286.0,148.3 L287.0,148.7 L288.0,148.0 L289.0,147.9 L290.0,148.1 L291.0,147.5 L292.0,147.5 L293.0,147.3 L294.0,147.0 L295.0,146.7 L296.0,146.5 L297.0,146.5 L298.0,146.4 L299.0,145.9 L300.0,146.0 L301.0,145.7 L302.0,145.8 L303.0,145.5 L304.0,145.2 L305.0,145.0 L306.0,144.9 L307.0,144.9 L308.0,145.0 L309.0,144.4 L310.0,144.2 L311.0,144.1 L312.0,143.8 L313.0,143.7 L314.0,143.5 L315.0,143.2 L316.0,142.9 L317.0,142.9 L318.0,142.8 L319.0,142.5 L320.0,142.5 L321.0,142.3 L322.0,141.9 L323.0,142.0 L324.0,141.4 L325.0,141.6 L326.0,141.5 L327.0,141.0 L328.0,140.9 L329.0,140.8 L330.0,140.7 L331.0,140.4 L332.0,140.2 L333.0,140.1 L334.0,139.9 L335.0,139.5 L336.0,139.5 L337.0,139.3 L338.0,138.9 L339.0,139.0 L340.0,138.7 L341.0,138.8 L342.0,138.3 L343.0,138.2 L344.0,137.9 L345.0,138.2 L346.0,138.0 L347.0,137.9 L348.0,137.7 L349.0,137.5 L350.0,137.3 L351.0,136.7 L352.0,136.9 L353.0,136.6 L354.0,136.5 L355.0,136.2 L356.0,136.4 L357.0,136.0 L358.0,135.6 L359.0,135.8 L360.0,135.5 L361.0,135.2 L362.0,135.1 L363.0,134.9 L364.0,134.5 L365.0,134.4 L366.0,134.6 L367.0,134.4 L368.0,134.2 L369.0,133.8 L370.0,133.8 L371.0,133.7 L372.0,133.6 L373.0,133.2 L374.0,133.0 L375.0,133.2 L376.0,132.9 L377.0,132.6 L378.0,132.4 L379.0,132.2 L380.0,132.4 L381.0,132.2 L382.0,131.8 L383.0,131.5 L384.0,131.8 L385.0,131.6 L386.0,131.3 L387.0,131.1 L388.0,130.5 L389.0,130.5 L390.0,130.6 L391.0,130.3 L392.0,130.2 L393.0,129.9 L394.0,129.7 L395.0,129.7 L396.0,129.4 L397.0,129.2 L398.0,129.1 L399.0,128.9 L400.0,128.9 L401.0,128.7 L402.0,128.1 L403.0,128.1 L404.0,127.9 L405.0,127.9 L406.0,127.5 L407.0,127.6 L408.0,127.4 L409.0,127.2 L410.0,126.8 L411.0,126.7 L412.0,126.4 L413.0,126.4 L414.0,126.3 L415.0,125.8 L416.0,125.7 L417.0,125.6 L418.0,125.4 L419.0,125.5 L420.0,125.1 L421.0,125.0 L422.0,124.6 L423.0,124.8 L424.0,124.4 L425.0,124.3 L426.0,124.0 L427.0,123.5 L428.0,123.4 L429.0,123.3 L430.0,123.4 L431.0,123.0 L432.0,123.0 L433.0,122.8 L434.0,122.6 L435.0,122.5 L436.0,122.2 L437.0,121.8 L438.0,121.8 L439.0,121.9 L440.0,121.3 L441.0,121.5 L442.0,121.4 L443.0,120.9 L444.0,120.8 L445.0,120.4 L446.0,120.5 L447.0,120.1 L448.0,119.9 L449.0,119.8 L450.0,119.7 L451.0,119.5 L452.0,119.4 L453.0,119.2 L454.0,118.9 L455.0,119.0 L456.0,119.0 L457.0,118.5 L458.0,118.2 L459.0,118.0 L460.0,118.1 L461.0,117.8 L462.0,117.7 L463.0,117.2 L464.0,117.2 L465.0,117.0 L466.0,117.1 L467.0,116.8 L468.0,116.3 L469.0,116.6 L470.0,116.5 L471.0,116.4 L472.0,115.6 L473.0,115.9 L474.0,115.8 L475.0,115.6 L476.0,115.3 L477.0,114.9 L478.0,115.0 L479.0,114.8 L480.0,114.8 L481.0,114.6 L482.0,114.3 L483.0,114.3 L484.0,113.9 L485.0,113.8 L486.0,113.7 L487.0,113.7 L488.0,113.4 L489.0,113.4 L490.0,113.2 L491.0,112.8 L492.0,112.8 L493.0,112.5 L494.0,112.3 L495.0,112.1 L496.0,112.4 L497.0,112.1 L498.0,111.6 L499.0,111.9 L500.0,111.7 L501.0,111.3 L502.0,111.3 L503.0,111.4 L504.0,111.0 L505.0,110.8 L506.0,110.8 L507.0,110.3 L508.0,110.1 L509.0,109.9 L510.0,110.0 L511.0,110.0 L511.4,109.7" fill="none" stroke="#b8c040" stroke-width="1.65" stroke-linejoin="round"/>
<line x1="152.3" y1="254.3" x2="152.3" y2="247.8" stroke="#222" stroke-width="1.5"/>
<line x1="146.5" y1="247.8" x2="158.10000000000002" y2="247.8" stroke="#222" stroke-width="1.6"/>
<line x1="168" y1="189.3" x2="168" y2="179.3" stroke="#222" stroke-width="1.5"/>
<line x1="162.2" y1="179.3" x2="173.8" y2="179.3" stroke="#222" stroke-width="1.6"/>
<line x1="199.6" y1="156.9" x2="199.6" y2="147.5" stroke="#222" stroke-width="1.5"/>
<line x1="194.0" y1="147.5" x2="205.2" y2="147.5" stroke="#222" stroke-width="1.6"/>
<line x1="262.6" y1="124.5" x2="262.6" y2="114.1" stroke="#222" stroke-width="1.5"/>
<line x1="256.90000000000003" y1="114.1" x2="268.3" y2="114.1" stroke="#222" stroke-width="1.6"/>
<line x1="388.7" y1="81.2" x2="388.7" y2="68.9" stroke="#222" stroke-width="1.5"/>
<line x1="382.7" y1="68.9" x2="394.7" y2="68.9" stroke="#222" stroke-width="1.6"/>
<line x1="388.7" y1="81.2" x2="388.7" y2="96" stroke="#222" stroke-width="1.5"/>
<line x1="388.7" y1="86.2" x2="388.7" y2="86.2" stroke="#222" stroke-width="1.5"/>
<line x1="382.7" y1="86.2" x2="394.7" y2="86.2" stroke="#222" stroke-width="1.6"/>
<line x1="511.4" y1="52" x2="511.4" y2="40" stroke="#222" stroke-width="1.5"/>
<line x1="505.9" y1="40" x2="516.9" y2="40" stroke="#222" stroke-width="1.6"/>
<line x1="511.4" y1="52" x2="511.4" y2="66" stroke="#222" stroke-width="1.5"/>
<line x1="511.4" y1="109.8" x2="511.4" y2="104" stroke="#222" stroke-width="1.5"/>
<line x1="505.9" y1="104" x2="516.9" y2="104" stroke="#222" stroke-width="1.6"/>
<circle cx="168" cy="262.8" r="5.3" fill="#ffffff" stroke="#111" stroke-width="1.35"/>
<circle cx="199.3" cy="258.6" r="5.3" fill="#ffffff" stroke="#111" stroke-width="1.35"/>
<circle cx="262.4" cy="253.7" r="5.3" fill="#ffffff" stroke="#111" stroke-width="1.35"/>
<circle cx="388.6" cy="247.7" r="5.3" fill="#ffffff" stroke="#111" stroke-width="1.35"/>
<circle cx="511.3" cy="243" r="5.3" fill="#ffffff" stroke="#111" stroke-width="1.35"/>
<circle cx="152.3" cy="265" r="5.3" fill="#f84040" stroke="#111" stroke-width="1.35"/>
<circle cx="168" cy="248.8" r="5.3" fill="#f84040" stroke="#111" stroke-width="1.35"/>
<circle cx="199.4" cy="211.6" r="5.3" fill="#f84040" stroke="#111" stroke-width="1.35"/>
<circle cx="262.6" cy="193.1" r="5.3" fill="#f84040" stroke="#111" stroke-width="1.35"/>
<circle cx="388.7" cy="174.1" r="5.3" fill="#f84040" stroke="#111" stroke-width="1.35"/>
<circle cx="511.3" cy="159.4" r="5.3" fill="#f84040" stroke="#111" stroke-width="1.35"/>
<circle cx="152.3" cy="265" r="5.3" fill="#0808f0" stroke="#111" stroke-width="1.35"/>
<circle cx="168" cy="212.3" r="5.3" fill="#0808f0" stroke="#111" stroke-width="1.35"/>
<circle cx="199.6" cy="174.6" r="5.3" fill="#0808f0" stroke="#111" stroke-width="1.35"/>
<circle cx="262.6" cy="143" r="5.3" fill="#0808f0" stroke="#111" stroke-width="1.35"/>
<circle cx="388.7" cy="100" r="5.3" fill="#0808f0" stroke="#111" stroke-width="1.35"/>
<circle cx="511.4" cy="70.7" r="5.3" fill="#0808f0" stroke="#111" stroke-width="1.35"/>
<circle cx="152.3" cy="254.3" r="5.3" fill="#0ac00a" stroke="#111" stroke-width="1.35"/>
<circle cx="168" cy="189.3" r="5.3" fill="#0ac00a" stroke="#111" stroke-width="1.35"/>
<circle cx="199.6" cy="156.9" r="5.3" fill="#0ac00a" stroke="#111" stroke-width="1.35"/>
<circle cx="262.6" cy="124.5" r="5.3" fill="#0ac00a" stroke="#111" stroke-width="1.35"/>
<circle cx="388.7" cy="81.2" r="5.3" fill="#0ac00a" stroke="#111" stroke-width="1.35"/>
<circle cx="511.4" cy="52" r="5.3" fill="#0ac00a" stroke="#111" stroke-width="1.35"/>
<circle cx="152.3" cy="264.5" r="5.3" fill="#a808dc" stroke="#111" stroke-width="1.35"/>
<circle cx="168" cy="198.2" r="5.3" fill="#a808dc" stroke="#111" stroke-width="1.35"/>
<circle cx="199.6" cy="164" r="5.3" fill="#a808dc" stroke="#111" stroke-width="1.35"/>
<circle cx="262.6" cy="141.5" r="5.3" fill="#a808dc" stroke="#111" stroke-width="1.35"/>
<circle cx="388.7" cy="105.6" r="5.3" fill="#a808dc" stroke="#111" stroke-width="1.35"/>
<circle cx="511.4" cy="78.6" r="5.3" fill="#a808dc" stroke="#111" stroke-width="1.35"/>
<circle cx="152.3" cy="264.5" r="5.3" fill="#ff8205" stroke="#111" stroke-width="1.35"/>
<circle cx="168" cy="202" r="5.3" fill="#ff8205" stroke="#111" stroke-width="1.35"/>
<circle cx="199.6" cy="163.2" r="5.3" fill="#ff8205" stroke="#111" stroke-width="1.35"/>
<circle cx="262.6" cy="140.7" r="5.3" fill="#ff8205" stroke="#111" stroke-width="1.35"/>
<circle cx="388.7" cy="113.8" r="5.3" fill="#ff8205" stroke="#111" stroke-width="1.35"/>
<circle cx="511.4" cy="90.3" r="5.3" fill="#ff8205" stroke="#111" stroke-width="1.35"/>
<circle cx="142.2" cy="265.5" r="5.3" fill="#c5c500" stroke="#111" stroke-width="1.35"/>
<circle cx="152.3" cy="263" r="5.3" fill="#c5c500" stroke="#111" stroke-width="1.35"/>
<circle cx="168" cy="209.5" r="5.3" fill="#c5c500" stroke="#111" stroke-width="1.35"/>
<circle cx="199.6" cy="171.9" r="5.3" fill="#c5c500" stroke="#111" stroke-width="1.35"/>
<circle cx="262.6" cy="152.5" r="5.3" fill="#c5c500" stroke="#111" stroke-width="1.35"/>
<circle cx="388.7" cy="130.7" r="5.3" fill="#c5c500" stroke="#111" stroke-width="1.35"/>
<circle cx="511.4" cy="109.8" r="5.3" fill="#c5c500" stroke="#111" stroke-width="1.35"/>
<line x1="262.6" y1="39" x2="262.6" y2="281" stroke="#333" stroke-width="1" stroke-dasharray="3 1.5"/>
<line x1="390.3" y1="39.3" x2="390.3" y2="284.8" stroke="#333" stroke-width="1" stroke-dasharray="3 1.5"/>
<line x1="514.5" y1="39" x2="514.5" y2="284.5" stroke="#333" stroke-width="1" stroke-dasharray="3 1.5"/>
<line x1="121.5" y1="159" x2="121.5" y2="259.5" stroke="#000" stroke-width="4.2" stroke-linecap="round"/>
<line x1="140.8" y1="283.1" x2="266.4" y2="283.1" stroke="#000" stroke-width="4.2" stroke-linecap="round"/>
<text x="45.2" y="218.9" font-family="'Liberation Sans', sans-serif" font-size="23" textLength="54.6" lengthAdjust="spacingAndGlyphs">5 mN</text>
<text x="168.2" y="315.2" font-family="'Liberation Sans', sans-serif" font-size="23" textLength="55.8" lengthAdjust="spacingAndGlyphs">200 s</text>
<line x1="147" y1="104.2" x2="147" y2="151" stroke="#000" stroke-width="2.4"/>
<path d="M140.9,149.5 L153.1,149.5 L147,166.8 Z" fill="#000"/>
<text x="107.6" y="93.9" font-family="'Liberation Sans', sans-serif" font-weight="bold" font-size="15.6" textLength="83" lengthAdjust="spacingAndGlyphs">3.5 mM Ca</text>
<text x="191.6" y="87.6" font-family="'Liberation Sans', sans-serif" font-weight="bold" font-size="11" textLength="13.6" lengthAdjust="spacingAndGlyphs">2+</text>
<circle cx="569.1" cy="23.5" r="5.2" fill="#0ac00a" stroke="#111" stroke-width="1.3"/>
<text x="599.6" y="31.6" font-family="'Liberation Sans', sans-serif" font-size="20.6" textLength="23.6" lengthAdjust="spacingAndGlyphs">50</text>
<circle cx="569.1" cy="47.7" r="5.2" fill="#0808f0" stroke="#111" stroke-width="1.3"/>
<text x="599.6" y="55.8" font-family="'Liberation Sans', sans-serif" font-size="20.6" textLength="23.6" lengthAdjust="spacingAndGlyphs">30</text>
<circle cx="569.1" cy="72.2" r="5.2" fill="#a808dc" stroke="#111" stroke-width="1.3"/>
<text x="599.6" y="80.3" font-family="'Liberation Sans', sans-serif" font-size="20.6" textLength="23.6" lengthAdjust="spacingAndGlyphs">70</text>
<circle cx="569.1" cy="96.4" r="5.2" fill="#ff8205" stroke="#111" stroke-width="1.3"/>
<text x="599.6" y="104.5" font-family="'Liberation Sans', sans-serif" font-size="20.6" textLength="23.6" lengthAdjust="spacingAndGlyphs">90</text>
<circle cx="569.1" cy="120.7" r="5.2" fill="#c5c500" stroke="#111" stroke-width="1.3"/>
<text x="599.6" y="128.8" font-family="'Liberation Sans', sans-serif" font-size="20.6" textLength="35.5" lengthAdjust="spacingAndGlyphs">124</text>
<circle cx="569.1" cy="158.5" r="5.2" fill="#f84040" stroke="#111" stroke-width="1.3"/>
<text x="599.6" y="166.6" font-family="'Liberation Sans', sans-serif" font-size="20.6" textLength="23.6" lengthAdjust="spacingAndGlyphs">20</text>
<circle cx="569.1" cy="240.6" r="5.2" fill="#ffffff" stroke="#111" stroke-width="1.3"/>
<text x="599.6" y="248.7" font-family="'Liberation Sans', sans-serif" font-size="20.6" textLength="23.6" lengthAdjust="spacingAndGlyphs">10</text>
<line x1="60" y1="382.3" x2="60" y2="530.7" stroke="#1a1a1a" stroke-width="2"/>
<line x1="55" y1="397.5" x2="60" y2="397.5" stroke="#1a1a1a" stroke-width="1.8"/>
<text x="53.6" y="402.2" font-family="'Liberation Sans', sans-serif" font-weight="bold" font-size="12" text-anchor="end" fill="#1a1a1a" textLength="14.3" lengthAdjust="spacingAndGlyphs">10</text>
<line x1="55" y1="462.4" x2="60" y2="462.4" stroke="#1a1a1a" stroke-width="1.8"/>
<text x="53.6" y="467.1" font-family="'Liberation Sans', sans-serif" font-weight="bold" font-size="12" text-anchor="end" fill="#1a1a1a" textLength="7.2" lengthAdjust="spacingAndGlyphs">5</text>
<line x1="55" y1="527.2" x2="60" y2="527.2" stroke="#1a1a1a" stroke-width="1.8"/>
<text x="53.6" y="531.9" font-family="'Liberation Sans', sans-serif" font-weight="bold" font-size="12" text-anchor="end" fill="#1a1a1a" textLength="7.2" lengthAdjust="spacingAndGlyphs">0</text>
<line x1="76.1" y1="545.9" x2="306" y2="545.9" stroke="#1a1a1a" stroke-width="2"/>
<line x1="91.5" y1="545.9" x2="91.5" y2="549.4" stroke="#1a1a1a" stroke-width="1.6"/>
<line x1="103.7" y1="545.9" x2="103.7" y2="549.4" stroke="#1a1a1a" stroke-width="1.6"/>
<line x1="113.7" y1="545.9" x2="113.7" y2="549.4" stroke="#1a1a1a" stroke-width="1.6"/>
<line x1="122.2" y1="545.9" x2="122.2" y2="549.4" stroke="#1a1a1a" stroke-width="1.6"/>
<line x1="129.5" y1="545.9" x2="129.5" y2="549.4" stroke="#1a1a1a" stroke-width="1.6"/>
<line x1="135.9" y1="545.9" x2="135.9" y2="549.4" stroke="#1a1a1a" stroke-width="1.6"/>
<line x1="141.7" y1="545.9" x2="141.7" y2="550.9" stroke="#1a1a1a" stroke-width="1.6"/>
<line x1="179.7" y1="545.9" x2="179.7" y2="549.4" stroke="#1a1a1a" stroke-width="1.6"/>
<line x1="201.9" y1="545.9" x2="201.9" y2="549.4" stroke="#1a1a1a" stroke-width="1.6"/>
<line x1="217.7" y1="545.9" x2="217.7" y2="549.4" stroke="#1a1a1a" stroke-width="1.6"/>
<line x1="229.9" y1="545.9" x2="229.9" y2="549.4" stroke="#1a1a1a" stroke-width="1.6"/>
<line x1="239.9" y1="545.9" x2="239.9" y2="549.4" stroke="#1a1a1a" stroke-width="1.6"/>
<line x1="248.4" y1="545.9" x2="248.4" y2="549.4" stroke="#1a1a1a" stroke-width="1.6"/>
<line x1="255.7" y1="545.9" x2="255.7" y2="549.4" stroke="#1a1a1a" stroke-width="1.6"/>
<line x1="262.1" y1="545.9" x2="262.1" y2="549.4" stroke="#1a1a1a" stroke-width="1.6"/>
<line x1="267.9" y1="545.9" x2="267.9" y2="550.9" stroke="#1a1a1a" stroke-width="1.6"/>
<line x1="305.2" y1="545.9" x2="305.2" y2="549.4" stroke="#1a1a1a" stroke-width="1.6"/>
<text x="142.0" y="564.9" font-family="'Liberation Sans', sans-serif" font-weight="bold" font-size="12" text-anchor="middle" fill="#1a1a1a" textLength="14.6" lengthAdjust="spacingAndGlyphs">10</text>
<text x="201.9" y="564.9" font-family="'Liberation Sans', sans-serif" font-weight="bold" font-size="12" text-anchor="middle" fill="#1a1a1a" textLength="15.4" lengthAdjust="spacingAndGlyphs">30</text>
<text x="267.9" y="564.9" font-family="'Liberation Sans', sans-serif" font-weight="bold" font-size="12" text-anchor="middle" fill="#1a1a1a" textLength="21.8" lengthAdjust="spacingAndGlyphs">100</text>
<text x="138.7" y="583.0" font-family="'Liberation Sans', sans-serif" font-weight="bold" font-size="12" text-anchor="middle" fill="#1a1a1a" textLength="18.9" lengthAdjust="spacingAndGlyphs">-59</text>
<text x="199.9" y="583.0" font-family="'Liberation Sans', sans-serif" font-weight="bold" font-size="12" text-anchor="middle" fill="#1a1a1a" textLength="18.9" lengthAdjust="spacingAndGlyphs">-36</text>
<text x="268.1" y="583.0" font-family="'Liberation Sans', sans-serif" font-weight="bold" font-size="12" text-anchor="middle" fill="#1a1a1a" textLength="11.8" lengthAdjust="spacingAndGlyphs">-8</text>
<text x="294" y="564.9" font-family="'Liberation Sans', sans-serif" font-weight="bold" font-size="13" fill="#1a1a1a" textLength="37.6" lengthAdjust="spacingAndGlyphs">mM K</text>
<text x="331.9" y="559.7" font-family="'Liberation Sans', sans-serif" font-weight="bold" font-size="8.5" fill="#1a1a1a">+</text>
<text x="294" y="583.0" font-family="'Liberation Sans', sans-serif" font-weight="bold" font-size="13" fill="#1a1a1a" textLength="31.9" lengthAdjust="spacingAndGlyphs">mV V</text>
<text x="327" y="586.2" font-family="'Liberation Sans', sans-serif" font-weight="bold" font-size="10" fill="#1a1a1a" textLength="9" lengthAdjust="spacingAndGlyphs">m</text>
<line x1="61" y1="527.3" x2="306.5" y2="527.3" stroke="#222" stroke-width="1.1" stroke-dasharray="1.3 1.3"/>
<text transform="translate(29.5,454.8) rotate(-90)" x="0" y="0" font-family="'Liberation Sans', sans-serif" font-weight="bold" font-size="17.6" text-anchor="middle" fill="#1a1a1a" textLength="80" lengthAdjust="spacingAndGlyphs">force (mN)</text>
<path d="M113.1,526.9 L113.6,526.8 L114.1,526.7 L114.6,526.6 L115.1,526.5 L115.6,526.4 L116.1,526.3 L116.6,526.2 L117.1,526.1 L117.6,526.1 L118.1,526.0 L118.6,525.9 L119.1,525.8 L119.6,525.7 L120.1,525.6 L120.6,525.5 L121.1,525.4 L121.6,525.2 L122.1,525.1 L122.6,525.0 L123.1,524.9 L123.6,524.8 L124.1,524.7 L124.6,524.6 L125.1,524.5 L125.6,524.4 L126.1,524.3 L126.6,524.2 L127.1,524.0 L127.6,523.9 L128.1,523.8 L128.6,523.7 L129.1,523.5 L129.6,523.4 L130.1,523.3 L130.6,523.2 L131.1,523.0 L131.6,522.9 L132.1,522.8 L132.6,522.6 L133.1,522.5 L133.6,522.3 L134.1,522.2 L134.6,522.0 L135.1,521.9 L135.6,521.7 L136.1,521.6 L136.6,521.4 L137.1,521.2 L137.6,521.1 L138.1,520.9 L138.6,520.7 L139.1,520.5 L139.6,520.3 L140.1,520.2 L140.6,520.0 L141.1,519.8 L141.6,519.6 L142.1,519.4 L142.6,519.1 L143.1,518.9 L143.6,518.7 L144.1,518.5 L144.6,518.2 L145.1,518.0 L145.6,517.8 L146.1,517.5 L146.6,517.3 L147.1,517.0 L147.6,516.7 L148.1,516.5 L148.6,516.2 L149.1,515.9 L149.6,515.6 L150.1,515.3 L150.6,515.0 L151.1,514.7 L151.6,514.3 L152.1,514.0 L152.6,513.6 L153.1,513.3 L153.6,512.9 L154.1,512.6 L154.6,512.2 L155.1,511.8 L155.6,511.4 L156.1,511.0 L156.6,510.5 L157.1,510.1 L157.6,509.7 L158.1,509.2 L158.6,508.7 L159.1,508.3 L159.6,507.8 L160.1,507.3 L160.6,506.8 L161.1,506.3 L161.6,505.7 L162.1,505.2 L162.6,504.6 L163.1,504.1 L163.6,503.5 L164.1,502.9 L164.6,502.3 L165.1,501.7 L165.6,501.1 L166.1,500.5 L166.6,499.8 L167.1,499.2 L167.6,498.5 L168.1,497.8 L168.6,497.1 L169.1,496.5 L169.6,495.8 L170.1,495.1 L170.6,494.3 L171.1,493.6 L171.6,492.9 L172.1,492.1 L172.6,491.4 L173.1,490.6 L173.6,489.9 L174.1,489.1 L174.6,488.3 L175.1,487.5 L175.6,486.7 L176.1,485.9 L176.6,485.2 L177.1,484.3 L177.6,483.5 L178.1,482.7 L178.6,481.9 L179.1,481.1 L179.6,480.3 L180.1,479.5 L180.6,478.7 L181.1,477.8 L181.6,477.0 L182.1,476.2 L182.6,475.4 L183.1,474.5 L183.6,473.7 L184.1,472.9 L184.6,472.1 L185.1,471.2 L185.6,470.4 L186.1,469.6 L186.6,468.8 L187.1,468.0 L187.6,467.2 L188.1,466.4 L188.6,465.6 L189.1,464.8 L189.6,464.1 L190.1,463.3 L190.6,462.6 L191.1,461.8 L191.6,461.1 L192.1,460.4 L192.6,459.7 L193.1,459.0 L193.6,458.3 L194.1,457.6 L194.6,456.9 L195.1,456.3 L195.6,455.6 L196.1,455.0 L196.6,454.4 L197.1,453.8 L197.6,453.2 L198.1,452.6 L198.6,452.1 L199.1,451.6 L199.6,451.0 L200.1,450.5 L200.6,450.0 L201.1,449.5 L201.6,449.1 L202.1,448.6 L202.6,448.2 L203.1,447.8 L203.6,447.3 L204.1,446.9 L204.6,446.5 L205.1,446.2 L205.6,445.8 L206.1,445.4 L206.6,445.1 L207.1,444.7 L207.6,444.4 L208.1,444.1 L208.6,443.8 L209.1,443.5 L209.6,443.2 L210.1,442.9 L210.6,442.6 L211.1,442.3 L211.6,442.1 L212.1,441.8 L212.6,441.6 L213.1,441.4 L213.6,441.1 L214.1,440.9 L214.6,440.7 L215.1,440.5 L215.6,440.3 L216.1,440.1 L216.6,440.0 L217.1,439.8 L217.6,439.6 L218.1,439.5 L218.6,439.3 L219.1,439.2 L219.6,439.0 L220.1,438.9 L220.6,438.8 L221.1,438.7 L221.6,438.6 L222.1,438.5 L222.6,438.4 L223.1,438.3 L223.6,438.2 L224.1,438.1 L224.6,438.0 L225.1,437.9 L225.6,437.9 L226.1,437.8 L226.6,437.8 L227.1,437.7 L227.6,437.7 L228.1,437.6 L228.6,437.6 L229.1,437.5 L229.6,437.5" fill="none" stroke="#111" stroke-width="1.1"/>
<path d="M113.1,526.9 L113.6,526.7 L114.1,526.5 L114.6,526.3 L115.1,526.1 L115.6,525.8 L116.1,525.6 L116.6,525.4 L117.1,525.2 L117.6,525.0 L118.1,524.8 L118.6,524.6 L119.1,524.4 L119.6,524.2 L120.1,524.0 L120.6,523.8 L121.1,523.6 L121.6,523.4 L122.1,523.2 L122.6,523.0 L123.1,522.8 L123.6,522.6 L124.1,522.4 L124.6,522.2 L125.1,522.0 L125.6,521.8 L126.1,521.6 L126.6,521.4 L127.1,521.2 L127.6,521.0 L128.1,520.8 L128.6,520.6 L129.1,520.4 L129.6,520.2 L130.1,520.0 L130.6,519.8 L131.1,519.6 L131.6,519.4 L132.1,519.2 L132.6,519.0 L133.1,518.8 L133.6,518.6 L134.1,518.4 L134.6,518.3 L135.1,518.1 L135.6,517.9 L136.1,517.7 L136.6,517.5 L137.1,517.3 L137.6,517.1 L138.1,516.8 L138.6,516.6 L139.1,516.4 L139.6,516.2 L140.1,516.0 L140.6,515.8 L141.1,515.6 L141.6,515.4 L142.1,515.2 L142.6,514.9 L143.1,514.7 L143.6,514.5 L144.1,514.3 L144.6,514.0 L145.1,513.8 L145.6,513.5 L146.1,513.3 L146.6,513.0 L147.1,512.8 L147.6,512.5 L148.1,512.2 L148.6,512.0 L149.1,511.7 L149.6,511.4 L150.1,511.1 L150.6,510.8 L151.1,510.5 L151.6,510.1 L152.1,509.8 L152.6,509.4 L153.1,509.1 L153.6,508.7 L154.1,508.3 L154.6,507.9 L155.1,507.5 L155.6,507.1 L156.1,506.7 L156.6,506.2 L157.1,505.8 L157.6,505.3 L158.1,504.8 L158.6,504.3 L159.1,503.8 L159.6,503.3 L160.1,502.7 L160.6,502.2 L161.1,501.6 L161.6,501.0 L162.1,500.4 L162.6,499.7 L163.1,499.1 L163.6,498.4 L164.1,497.7 L164.6,497.0 L165.1,496.3 L165.6,495.6 L166.1,494.8 L166.6,494.0 L167.1,493.2 L167.6,492.4 L168.1,491.6 L168.6,490.8 L169.1,489.9 L169.6,489.0 L170.1,488.1 L170.6,487.2 L171.1,486.3 L171.6,485.3 L172.1,484.4 L172.6,483.4 L173.1,482.4 L173.6,481.4 L174.1,480.4 L174.6,479.4 L175.1,478.3 L175.6,477.3 L176.1,476.2 L176.6,475.1 L177.1,474.0 L177.6,472.9 L178.1,471.8 L178.6,470.7 L179.1,469.5 L179.6,468.4 L180.1,467.3 L180.6,466.1 L181.1,464.9 L181.6,463.7 L182.1,462.6 L182.6,461.4 L183.1,460.2 L183.6,459.0 L184.1,457.8 L184.6,456.6 L185.1,455.4 L185.6,454.2 L186.1,453.0 L186.6,451.8 L187.1,450.6 L187.6,449.4 L188.1,448.2 L188.6,447.1 L189.1,445.9 L189.6,444.8 L190.1,443.6 L190.6,442.5 L191.1,441.4 L191.6,440.3 L192.1,439.2 L192.6,438.2 L193.1,437.1 L193.6,436.1 L194.1,435.1 L194.6,434.1 L195.1,433.1 L195.6,432.2 L196.1,431.3 L196.6,430.4 L197.1,429.5 L197.6,428.6 L198.1,427.8 L198.6,427.0 L199.1,426.2 L199.6,425.4 L200.1,424.7 L200.6,424.0 L201.1,423.3 L201.6,422.7 L202.1,422.1 L202.6,421.4 L203.1,420.9 L203.6,420.3 L204.1,419.7 L204.6,419.2 L205.1,418.7 L205.6,418.2 L206.1,417.7 L206.6,417.2 L207.1,416.8 L207.6,416.3 L208.1,415.9 L208.6,415.5 L209.1,415.1 L209.6,414.7 L210.1,414.3 L210.6,414.0 L211.1,413.6 L211.6,413.3 L212.1,413.0 L212.6,412.7 L213.1,412.4 L213.6,412.1 L214.1,411.9 L214.6,411.6 L215.1,411.4 L215.6,411.2 L216.1,410.9 L216.6,410.7 L217.1,410.5 L217.6,410.4 L218.1,410.2 L218.6,410.0 L219.1,409.9 L219.6,409.8 L220.1,409.6 L220.6,409.5 L221.1,409.4 L221.6,409.3 L222.1,409.2 L222.6,409.1 L223.1,409.1 L223.6,409.0 L224.1,408.9 L224.6,408.9 L225.1,408.9 L225.6,408.8 L226.1,408.8 L226.6,408.8 L227.1,408.8 L227.6,408.8 L228.1,408.8 L228.6,408.8 L229.1,408.8 L229.6,408.9" fill="none" stroke="#111" stroke-width="1.1"/>
<path d="M113.1,526.9 L113.6,526.6 L114.1,526.3 L114.6,526.0 L115.1,525.6 L115.6,525.3 L116.1,525.0 L116.6,524.7 L117.1,524.4 L117.6,524.1 L118.1,523.8 L118.6,523.5 L119.1,523.2 L119.6,522.9 L120.1,522.6 L120.6,522.3 L121.1,522.0 L121.6,521.7 L122.1,521.5 L122.6,521.2 L123.1,520.9 L123.6,520.6 L124.1,520.3 L124.6,520.1 L125.1,519.8 L125.6,519.5 L126.1,519.3 L126.6,519.0 L127.1,518.7 L127.6,518.5 L128.1,518.2 L128.6,518.0 L129.1,517.7 L129.6,517.5 L130.1,517.2 L130.6,517.0 L131.1,516.7 L131.6,516.5 L132.1,516.3 L132.6,516.0 L133.1,515.8 L133.6,515.6 L134.1,515.3 L134.6,515.1 L135.1,514.9 L135.6,514.7 L136.1,514.4 L136.6,514.2 L137.1,514.0 L137.6,513.8 L138.1,513.6 L138.6,513.3 L139.1,513.1 L139.6,512.9 L140.1,512.7 L140.6,512.5 L141.1,512.3 L141.6,512.1 L142.1,511.9 L142.6,511.6 L143.1,511.4 L143.6,511.2 L144.1,511.0 L144.6,510.8 L145.1,510.6 L145.6,510.3 L146.1,510.1 L146.6,509.9 L147.1,509.6 L147.6,509.4 L148.1,509.2 L148.6,508.9 L149.1,508.6 L149.6,508.4 L150.1,508.1 L150.6,507.8 L151.1,507.5 L151.6,507.2 L152.1,506.9 L152.6,506.6 L153.1,506.2 L153.6,505.9 L154.1,505.5 L154.6,505.1 L155.1,504.7 L155.6,504.3 L156.1,503.9 L156.6,503.4 L157.1,503.0 L157.6,502.5 L158.1,502.0 L158.6,501.5 L159.1,500.9 L159.6,500.4 L160.1,499.8 L160.6,499.2 L161.1,498.6 L161.6,498.0 L162.1,497.3 L162.6,496.6 L163.1,495.9 L163.6,495.2 L164.1,494.4 L164.6,493.6 L165.1,492.8 L165.6,492.0 L166.1,491.1 L166.6,490.3 L167.1,489.4 L167.6,488.4 L168.1,487.5 L168.6,486.5 L169.1,485.5 L169.6,484.5 L170.1,483.4 L170.6,482.3 L171.1,481.2 L171.6,480.1 L172.1,479.0 L172.6,477.8 L173.1,476.6 L173.6,475.4 L174.1,474.2 L174.6,472.9 L175.1,471.6 L175.6,470.3 L176.1,469.0 L176.6,467.7 L177.1,466.3 L177.6,465.0 L178.1,463.6 L178.6,462.2 L179.1,460.8 L179.6,459.4 L180.1,458.0 L180.6,456.5 L181.1,455.1 L181.6,453.6 L182.1,452.1 L182.6,450.6 L183.1,449.1 L183.6,447.6 L184.1,446.1 L184.6,444.6 L185.1,443.1 L185.6,441.6 L186.1,440.1 L186.6,438.7 L187.1,437.2 L187.6,435.7 L188.1,434.2 L188.6,432.8 L189.1,431.4 L189.6,429.9 L190.1,428.5 L190.6,427.2 L191.1,425.8 L191.6,424.5 L192.1,423.1 L192.6,421.8 L193.1,420.6 L193.6,419.3 L194.1,418.1 L194.6,416.9 L195.1,415.7 L195.6,414.6 L196.1,413.5 L196.6,412.4 L197.1,411.3 L197.6,410.3 L198.1,409.3 L198.6,408.4 L199.1,407.4 L199.6,406.5 L200.1,405.7 L200.6,404.9 L201.1,404.1 L201.6,403.3 L202.1,402.6 L202.6,401.9 L203.1,401.3 L203.6,400.6 L204.1,400.0 L204.6,399.4 L205.1,398.8 L205.6,398.2 L206.1,397.7 L206.6,397.2 L207.1,396.7 L207.6,396.2 L208.1,395.7 L208.6,395.3 L209.1,394.9 L209.6,394.5 L210.1,394.1 L210.6,393.7 L211.1,393.3 L211.6,393.0 L212.1,392.7 L212.6,392.4 L213.1,392.1 L213.6,391.8 L214.1,391.6 L214.6,391.3 L215.1,391.1 L215.6,390.9 L216.1,390.7 L216.6,390.5 L217.1,390.3 L217.6,390.1 L218.1,390.0 L218.6,389.8 L219.1,389.7 L219.6,389.6 L220.1,389.5 L220.6,389.4 L221.1,389.3 L221.6,389.3 L222.1,389.2 L222.6,389.2 L223.1,389.1 L223.6,389.1 L224.1,389.1 L224.6,389.1 L225.1,389.1 L225.6,389.1 L226.1,389.1 L226.6,389.2 L227.1,389.2 L227.6,389.3 L228.1,389.3 L228.6,389.4 L229.1,389.5 L229.6,389.5" fill="none" stroke="#111" stroke-width="1.1"/>
<line x1="201.9" y1="402.9" x2="201.9" y2="413.9" stroke="#222" stroke-width="1"/>
<line x1="198.6" y1="413.9" x2="205.20000000000002" y2="413.9" stroke="#222" stroke-width="1.1"/>
<line x1="201.9" y1="422.3" x2="201.9" y2="432.3" stroke="#222" stroke-width="1"/>
<line x1="198.6" y1="432.3" x2="205.20000000000002" y2="432.3" stroke="#222" stroke-width="1.1"/>
<line x1="201.9" y1="448.8" x2="201.9" y2="456.8" stroke="#222" stroke-width="1"/>
<line x1="198.6" y1="456.8" x2="205.20000000000002" y2="456.8" stroke="#222" stroke-width="1.1"/>
<line x1="229.9" y1="389.6" x2="229.9" y2="397" stroke="#222" stroke-width="1"/>
<line x1="226.6" y1="397" x2="233.20000000000002" y2="397" stroke="#222" stroke-width="1.1"/>
<line x1="229.9" y1="408.9" x2="229.9" y2="416.5" stroke="#222" stroke-width="1"/>
<line x1="226.6" y1="416.5" x2="233.20000000000002" y2="416.5" stroke="#222" stroke-width="1.1"/>
<line x1="229.9" y1="437.5" x2="229.9" y2="444.2" stroke="#222" stroke-width="1"/>
<line x1="226.6" y1="444.2" x2="233.20000000000002" y2="444.2" stroke="#222" stroke-width="1.1"/>
<line x1="279.5" y1="426.5" x2="279.5" y2="430.3" stroke="#222" stroke-width="1"/>
<line x1="276.2" y1="430.3" x2="282.8" y2="430.3" stroke="#222" stroke-width="1.1"/>
<circle cx="113.1" cy="526.9" r="3.3" fill="#000" stroke="#111" stroke-width="1.0"/>
<circle cx="142" cy="519.4" r="3.3" fill="#000" stroke="#111" stroke-width="1.0"/>
<circle cx="179.6" cy="480.3" r="3.3" fill="#000" stroke="#111" stroke-width="1.0"/>
<circle cx="201.9" cy="448.8" r="3.3" fill="#000" stroke="#111" stroke-width="1.0"/>
<circle cx="229.9" cy="437.5" r="3.3" fill="#000" stroke="#111" stroke-width="1.0"/>
<circle cx="113.1" cy="526.9" r="3.3" fill="#fff" stroke="#111" stroke-width="1.0"/>
<circle cx="142" cy="511.9" r="3.3" fill="#fff" stroke="#111" stroke-width="1.0"/>
<circle cx="179.6" cy="459.4" r="3.3" fill="#fff" stroke="#111" stroke-width="1.0"/>
<circle cx="201.9" cy="402.9" r="3.3" fill="#fff" stroke="#111" stroke-width="1.0"/>
<circle cx="229.9" cy="389.6" r="3.3" fill="#fff" stroke="#111" stroke-width="1.0"/>
<circle cx="113.1" cy="526.9" r="3.3" fill="#c8c8c8" stroke="#111" stroke-width="1.0"/>
<circle cx="142" cy="515.2" r="3.3" fill="#c8c8c8" stroke="#111" stroke-width="1.0"/>
<circle cx="179.6" cy="468.4" r="3.3" fill="#c8c8c8" stroke="#111" stroke-width="1.0"/>
<circle cx="201.9" cy="422.3" r="3.3" fill="#c8c8c8" stroke="#111" stroke-width="1.0"/>
<circle cx="229.9" cy="408.9" r="3.3" fill="#c8c8c8" stroke="#111" stroke-width="1.0"/>
<circle cx="248.4" cy="407.1" r="3.3" fill="#fff" stroke="#111" stroke-width="1.0"/>
<circle cx="248.4" cy="425" r="3.3" fill="#c8c8c8" stroke="#111" stroke-width="1.0"/>
<circle cx="248.4" cy="447" r="3.3" fill="#000" stroke="#111" stroke-width="1.0"/>
<circle cx="261.9" cy="415.3" r="3.3" fill="#fff" stroke="#111" stroke-width="1.0"/>
<circle cx="261.9" cy="429.9" r="3.3" fill="#c8c8c8" stroke="#111" stroke-width="1.0"/>
<circle cx="261.9" cy="447" r="3.3" fill="#000" stroke="#111" stroke-width="1.0"/>
<circle cx="279.5" cy="426.5" r="3.3" fill="#fff" stroke="#111" stroke-width="1.0"/>
<circle cx="279.5" cy="440.4" r="3.3" fill="#c8c8c8" stroke="#111" stroke-width="1.0"/>
<circle cx="279.5" cy="454.5" r="3.3" fill="#000" stroke="#111" stroke-width="1.0"/>
<path d="M248.40,395.10 L248.40,400.30 M246.15,396.40 L250.65,399.00 M250.65,396.40 L246.15,399.00 " stroke="#1a1a1a" stroke-width="1.4" fill="none"/>
<path d="M248.40,414.20 L248.40,419.40 M246.15,415.50 L250.65,418.10 M250.65,415.50 L246.15,418.10 " stroke="#1a1a1a" stroke-width="1.4" fill="none"/>
<path d="M255.60,404.90 L255.60,410.10 M253.35,406.20 L257.85,408.80 M257.85,406.20 L253.35,408.80 " stroke="#1a1a1a" stroke-width="1.4" fill="none"/>
<path d="M262.30,404.90 L262.30,410.10 M260.05,406.20 L264.55,408.80 M264.55,406.20 L260.05,408.80 " stroke="#1a1a1a" stroke-width="1.4" fill="none"/>
<path d="M268.70,404.90 L268.70,410.10 M266.45,406.20 L270.95,408.80 M270.95,406.20 L266.45,408.80 " stroke="#1a1a1a" stroke-width="1.4" fill="none"/>
<path d="M259.00,420.70 L259.00,425.90 M256.75,422.00 L261.25,424.60 M261.25,422.00 L256.75,424.60 " stroke="#1a1a1a" stroke-width="1.4" fill="none"/>
<path d="M265.30,420.70 L265.30,425.90 M263.05,422.00 L267.55,424.60 M267.55,422.00 L263.05,424.60 " stroke="#1a1a1a" stroke-width="1.4" fill="none"/>
<path d="M272.80,415.70 L272.80,420.90 M270.55,417.00 L275.05,419.60 M275.05,417.00 L270.55,419.60 " stroke="#1a1a1a" stroke-width="1.4" fill="none"/>
<path d="M279.50,415.70 L279.50,420.90 M277.25,417.00 L281.75,419.60 M281.75,417.00 L277.25,419.60 " stroke="#1a1a1a" stroke-width="1.4" fill="none"/>
<path d="M285.90,415.70 L285.90,420.90 M283.65,417.00 L288.15,419.60 M288.15,417.00 L283.65,419.60 " stroke="#1a1a1a" stroke-width="1.4" fill="none"/>
<path d="M272.80,431.00 L272.80,436.20 M270.55,432.30 L275.05,434.90 M275.05,432.30 L270.55,434.90 " stroke="#1a1a1a" stroke-width="1.4" fill="none"/>
<path d="M279.50,431.00 L279.50,436.20 M277.25,432.30 L281.75,434.90 M281.75,432.30 L277.25,434.90 " stroke="#1a1a1a" stroke-width="1.4" fill="none"/>
<path d="M285.90,431.00 L285.90,436.20 M283.65,432.30 L288.15,434.90 M288.15,432.30 L283.65,434.90 " stroke="#1a1a1a" stroke-width="1.4" fill="none"/>
<path d="M279.50,460.90 L279.50,466.10 M277.25,462.20 L281.75,464.80 M281.75,462.20 L277.25,464.80 " stroke="#1a1a1a" stroke-width="1.4" fill="none"/>
<circle cx="83.8" cy="379.9" r="3.4" fill="#fff" stroke="#111" stroke-width="1.0"/>
<text x="102.4" y="384.8" font-family="'Liberation Sans', sans-serif" font-size="12" fill="#1a1a1a" textLength="30.6" lengthAdjust="spacingAndGlyphs">600 s</text>
<circle cx="83.8" cy="394.5" r="3.4" fill="#c8c8c8" stroke="#111" stroke-width="1.0"/>
<text x="102.4" y="399.4" font-family="'Liberation Sans', sans-serif" font-size="12" fill="#1a1a1a" textLength="30.6" lengthAdjust="spacingAndGlyphs">400 s</text>
<circle cx="83.8" cy="410" r="3.4" fill="#000" stroke="#111" stroke-width="1.0"/>
<text x="102.4" y="414.9" font-family="'Liberation Sans', sans-serif" font-size="12" fill="#1a1a1a" textLength="30.6" lengthAdjust="spacingAndGlyphs">200 s</text>
<line x1="393.4" y1="383.4" x2="393.4" y2="529.8" stroke="#1a1a1a" stroke-width="2"/>
<line x1="388.4" y1="396.4" x2="393.4" y2="396.4" stroke="#1a1a1a" stroke-width="1.8"/>
<text x="387.6" y="401.1" font-family="'Liberation Sans', sans-serif" font-weight="bold" font-size="12" text-anchor="end" fill="#1a1a1a" textLength="21" lengthAdjust="spacingAndGlyphs">100</text>
<line x1="388.4" y1="460" x2="393.4" y2="460" stroke="#1a1a1a" stroke-width="1.8"/>
<text x="387.6" y="464.7" font-family="'Liberation Sans', sans-serif" font-weight="bold" font-size="12" text-anchor="end" fill="#1a1a1a" textLength="14.2" lengthAdjust="spacingAndGlyphs">50</text>
<line x1="388.4" y1="524.2" x2="393.4" y2="524.2" stroke="#1a1a1a" stroke-width="1.8"/>
<text x="387.6" y="528.9" font-family="'Liberation Sans', sans-serif" font-weight="bold" font-size="12" text-anchor="end" fill="#1a1a1a" textLength="7.2" lengthAdjust="spacingAndGlyphs">0</text>
<line x1="409.8" y1="545.7" x2="637.8" y2="545.7" stroke="#1a1a1a" stroke-width="2"/>
<line x1="426.4" y1="545.7" x2="426.4" y2="549.2" stroke="#1a1a1a" stroke-width="1.6"/>
<line x1="438.4" y1="545.7" x2="438.4" y2="549.2" stroke="#1a1a1a" stroke-width="1.6"/>
<line x1="448.2" y1="545.7" x2="448.2" y2="549.2" stroke="#1a1a1a" stroke-width="1.6"/>
<line x1="456.5" y1="545.7" x2="456.5" y2="549.2" stroke="#1a1a1a" stroke-width="1.6"/>
<line x1="463.6" y1="545.7" x2="463.6" y2="549.2" stroke="#1a1a1a" stroke-width="1.6"/>
<line x1="469.9" y1="545.7" x2="469.9" y2="549.2" stroke="#1a1a1a" stroke-width="1.6"/>
<line x1="475.6" y1="545.7" x2="475.6" y2="550.7" stroke="#1a1a1a" stroke-width="1.6"/>
<line x1="512.8" y1="545.7" x2="512.8" y2="549.2" stroke="#1a1a1a" stroke-width="1.6"/>
<line x1="534.6" y1="545.7" x2="534.6" y2="549.2" stroke="#1a1a1a" stroke-width="1.6"/>
<line x1="550.0" y1="545.7" x2="550.0" y2="549.2" stroke="#1a1a1a" stroke-width="1.6"/>
<line x1="562.0" y1="545.7" x2="562.0" y2="549.2" stroke="#1a1a1a" stroke-width="1.6"/>
<line x1="571.8" y1="545.7" x2="571.8" y2="549.2" stroke="#1a1a1a" stroke-width="1.6"/>
<line x1="580.1" y1="545.7" x2="580.1" y2="549.2" stroke="#1a1a1a" stroke-width="1.6"/>
<line x1="587.2" y1="545.7" x2="587.2" y2="549.2" stroke="#1a1a1a" stroke-width="1.6"/>
<line x1="593.5" y1="545.7" x2="593.5" y2="549.2" stroke="#1a1a1a" stroke-width="1.6"/>
<line x1="599.2" y1="545.7" x2="599.2" y2="550.7" stroke="#1a1a1a" stroke-width="1.6"/>
<line x1="637.0" y1="545.7" x2="637.0" y2="549.2" stroke="#1a1a1a" stroke-width="1.6"/>
<text x="475.9" y="564.3" font-family="'Liberation Sans', sans-serif" font-weight="bold" font-size="12" text-anchor="middle" fill="#1a1a1a" textLength="14.6" lengthAdjust="spacingAndGlyphs">10</text>
<text x="534.6" y="564.3" font-family="'Liberation Sans', sans-serif" font-weight="bold" font-size="12" text-anchor="middle" fill="#1a1a1a" textLength="15.4" lengthAdjust="spacingAndGlyphs">30</text>
<text x="599.2" y="564.3" font-family="'Liberation Sans', sans-serif" font-weight="bold" font-size="12" text-anchor="middle" fill="#1a1a1a" textLength="21.8" lengthAdjust="spacingAndGlyphs">100</text>
<text x="472.6" y="582.4" font-family="'Liberation Sans', sans-serif" font-weight="bold" font-size="12" text-anchor="middle" fill="#1a1a1a" textLength="18.9" lengthAdjust="spacingAndGlyphs">-59</text>
<text x="532.6" y="582.4" font-family="'Liberation Sans', sans-serif" font-weight="bold" font-size="12" text-anchor="middle" fill="#1a1a1a" textLength="18.9" lengthAdjust="spacingAndGlyphs">-36</text>
<text x="599.4" y="582.4" font-family="'Liberation Sans', sans-serif" font-weight="bold" font-size="12" text-anchor="middle" fill="#1a1a1a" textLength="11.8" lengthAdjust="spacingAndGlyphs">-8</text>
<text x="627.6" y="564.3" font-family="'Liberation Sans', sans-serif" font-weight="bold" font-size="13" fill="#1a1a1a" textLength="37.6" lengthAdjust="spacingAndGlyphs">mM K</text>
<text x="665.5" y="559.1" font-family="'Liberation Sans', sans-serif" font-weight="bold" font-size="8.5" fill="#1a1a1a">+</text>
<text x="627.6" y="582.4" font-family="'Liberation Sans', sans-serif" font-weight="bold" font-size="13" fill="#1a1a1a" textLength="31.9" lengthAdjust="spacingAndGlyphs">mV V</text>
<text x="660.6" y="585.6" font-family="'Liberation Sans', sans-serif" font-weight="bold" font-size="10" fill="#1a1a1a" textLength="9" lengthAdjust="spacingAndGlyphs">m</text>
<line x1="394.5" y1="524.1" x2="638.5" y2="524.1" stroke="#222" stroke-width="1.1" stroke-dasharray="1.3 1.3"/>
<text transform="translate(356.3,456.3) rotate(-90)" x="0" y="0" font-family="'Liberation Sans', sans-serif" font-weight="bold" font-size="17" text-anchor="middle" fill="#1a1a1a" textLength="66" lengthAdjust="spacingAndGlyphs">force (%)</text>
<path d="M446.2,524.2 L446.7,524.0 L447.2,523.7 L447.7,523.5 L448.2,523.3 L448.7,523.0 L449.2,522.8 L449.7,522.6 L450.2,522.3 L450.7,522.1 L451.2,521.9 L451.7,521.6 L452.2,521.4 L452.7,521.2 L453.2,520.9 L453.7,520.7 L454.2,520.5 L454.7,520.3 L455.2,520.0 L455.7,519.8 L456.2,519.6 L456.7,519.4 L457.2,519.1 L457.7,518.9 L458.2,518.7 L458.7,518.5 L459.2,518.2 L459.7,518.0 L460.2,517.8 L460.7,517.6 L461.2,517.4 L461.7,517.1 L462.2,516.9 L462.7,516.7 L463.2,516.5 L463.7,516.2 L464.2,516.0 L464.7,515.8 L465.2,515.6 L465.7,515.3 L466.2,515.1 L466.7,514.9 L467.2,514.7 L467.7,514.4 L468.2,514.2 L468.7,514.0 L469.2,513.7 L469.7,513.5 L470.2,513.2 L470.7,513.0 L471.2,512.8 L471.7,512.5 L472.2,512.3 L472.7,512.0 L473.2,511.8 L473.7,511.5 L474.2,511.2 L474.7,511.0 L475.2,510.7 L475.7,510.4 L476.2,510.2 L476.7,509.9 L477.2,509.6 L477.7,509.3 L478.2,509.0 L478.7,508.7 L479.2,508.4 L479.7,508.1 L480.2,507.8 L480.7,507.5 L481.2,507.2 L481.7,506.9 L482.2,506.5 L482.7,506.2 L483.2,505.8 L483.7,505.5 L484.2,505.1 L484.7,504.7 L485.2,504.3 L485.7,503.9 L486.2,503.5 L486.7,503.0 L487.2,502.6 L487.7,502.1 L488.2,501.7 L488.7,501.2 L489.2,500.7 L489.7,500.2 L490.2,499.6 L490.7,499.1 L491.2,498.5 L491.7,498.0 L492.2,497.4 L492.7,496.8 L493.2,496.1 L493.7,495.5 L494.2,494.8 L494.7,494.2 L495.2,493.5 L495.7,492.7 L496.2,492.0 L496.7,491.3 L497.2,490.5 L497.7,489.7 L498.2,488.9 L498.7,488.1 L499.2,487.2 L499.7,486.4 L500.2,485.5 L500.7,484.6 L501.2,483.7 L501.7,482.8 L502.2,481.8 L502.7,480.8 L503.2,479.9 L503.7,478.9 L504.2,477.8 L504.7,476.8 L505.2,475.8 L505.7,474.7 L506.2,473.6 L506.7,472.5 L507.2,471.4 L507.7,470.3 L508.2,469.2 L508.7,468.0 L509.2,466.9 L509.7,465.7 L510.2,464.5 L510.7,463.3 L511.2,462.1 L511.7,460.9 L512.2,459.7 L512.7,458.5 L513.2,457.3 L513.7,456.0 L514.2,454.8 L514.7,453.5 L515.2,452.2 L515.7,451.0 L516.2,449.7 L516.7,448.4 L517.2,447.1 L517.7,445.8 L518.2,444.5 L518.7,443.2 L519.2,441.9 L519.7,440.6 L520.2,439.4 L520.7,438.1 L521.2,436.8 L521.7,435.6 L522.2,434.3 L522.7,433.1 L523.2,431.9 L523.7,430.7 L524.2,429.5 L524.7,428.3 L525.2,427.1 L525.7,426.0 L526.2,424.9 L526.7,423.8 L527.2,422.7 L527.7,421.7 L528.2,420.6 L528.7,419.6 L529.2,418.6 L529.7,417.7 L530.2,416.7 L530.7,415.8 L531.2,415.0 L531.7,414.1 L532.2,413.3 L532.7,412.5 L533.2,411.7 L533.7,411.0 L534.2,410.3 L534.7,409.6 L535.2,409.0 L535.7,408.4 L536.2,407.8 L536.7,407.2 L537.2,406.6 L537.7,406.1 L538.2,405.5 L538.7,405.0 L539.2,404.5 L539.7,404.0 L540.2,403.6 L540.7,403.1 L541.2,402.7 L541.7,402.3 L542.2,401.9 L542.7,401.5 L543.2,401.1 L543.7,400.8 L544.2,400.4 L544.7,400.1 L545.2,399.8 L545.7,399.5 L546.2,399.2 L546.7,399.0 L547.2,398.7 L547.7,398.5 L548.2,398.3 L548.7,398.1 L549.2,397.9 L549.7,397.7 L550.2,397.5 L550.7,397.3 L551.2,397.2 L551.7,397.1 L552.2,396.9 L552.7,396.8 L553.2,396.7 L553.7,396.6 L554.2,396.5 L554.7,396.5 L555.2,396.4 L555.7,396.4 L556.2,396.3 L556.7,396.3 L557.2,396.3 L557.7,396.3 L558.2,396.3 L558.7,396.3 L559.2,396.3 L559.7,396.3 L560.2,396.4 L560.7,396.4 L561.2,396.5 L561.7,396.6" fill="none" stroke="#111" stroke-width="1.3"/>
<line x1="534.8" y1="407.9" x2="534.8" y2="398.4" stroke="#222" stroke-width="1"/>
<line x1="531.5" y1="398.4" x2="538.0999999999999" y2="398.4" stroke="#222" stroke-width="1.1"/>
<line x1="534.8" y1="411.1" x2="534.8" y2="400.7" stroke="#222" stroke-width="1"/>
<line x1="531.5" y1="400.7" x2="538.0999999999999" y2="400.7" stroke="#222" stroke-width="1.1"/>
<line x1="580.4" y1="405.9" x2="580.4" y2="393.5" stroke="#222" stroke-width="1"/>
<line x1="577.1" y1="393.5" x2="583.6999999999999" y2="393.5" stroke="#222" stroke-width="1.1"/>
<line x1="594.5" y1="407.2" x2="594.5" y2="400.7" stroke="#222" stroke-width="1"/>
<line x1="591.2" y1="400.7" x2="597.8" y2="400.7" stroke="#222" stroke-width="1.1"/>
<line x1="594.5" y1="417.3" x2="594.5" y2="412.4" stroke="#222" stroke-width="1"/>
<line x1="591.2" y1="412.4" x2="597.8" y2="412.4" stroke="#222" stroke-width="1.1"/>
<line x1="611.5" y1="418.5" x2="611.5" y2="412.9" stroke="#222" stroke-width="1"/>
<line x1="608.2" y1="412.9" x2="614.8" y2="412.9" stroke="#222" stroke-width="1.1"/>
<circle cx="594.5" cy="419.4" r="3.35" fill="#000" stroke="#111" stroke-width="1.0"/>
<circle cx="611.5" cy="431.5" r="3.35" fill="#000" stroke="#111" stroke-width="1.0"/>
<circle cx="446.2" cy="524.2" r="3.35" fill="#c8c8c8" stroke="#111" stroke-width="1.0"/>
<circle cx="475.6" cy="511" r="3.35" fill="#c8c8c8" stroke="#111" stroke-width="1.0"/>
<circle cx="512.7" cy="459" r="3.35" fill="#c8c8c8" stroke="#111" stroke-width="1.0"/>
<circle cx="534.8" cy="409.5" r="3.35" fill="#c8c8c8" stroke="#111" stroke-width="1.0"/>
<circle cx="562" cy="396.6" r="3.35" fill="#c8c8c8" stroke="#111" stroke-width="1.0"/>
<circle cx="580.4" cy="411.5" r="3.35" fill="#c8c8c8" stroke="#111" stroke-width="1.0"/>
<circle cx="594.5" cy="417.3" r="3.35" fill="#c8c8c8" stroke="#111" stroke-width="1.0"/>
<circle cx="611.5" cy="430" r="3.35" fill="#c8c8c8" stroke="#111" stroke-width="1.0"/>
<circle cx="446.2" cy="524.2" r="3.35" fill="#000" stroke="#111" stroke-width="1.0"/>
<circle cx="475.6" cy="509.3" r="3.35" fill="#000" stroke="#111" stroke-width="1.0"/>
<circle cx="512.7" cy="460.9" r="3.35" fill="#000" stroke="#111" stroke-width="1.0"/>
<circle cx="534.8" cy="407.9" r="3.35" fill="#000" stroke="#111" stroke-width="1.0"/>
<circle cx="562" cy="396.6" r="3.35" fill="#000" stroke="#111" stroke-width="1.0"/>
<circle cx="446.2" cy="523.6" r="3.35" fill="#fff" stroke="#111" stroke-width="1.0"/>
<circle cx="475.6" cy="511.9" r="3.35" fill="#fff" stroke="#111" stroke-width="1.0"/>
<circle cx="512.7" cy="455.9" r="3.35" fill="#fff" stroke="#111" stroke-width="1.0"/>
<circle cx="534.8" cy="411.1" r="3.35" fill="#fff" stroke="#111" stroke-width="1.0"/>
<circle cx="562" cy="396.6" r="3.35" fill="#fff" stroke="#111" stroke-width="1.0"/>
<circle cx="580.4" cy="405.9" r="3.35" fill="#fff" stroke="#111" stroke-width="1.0"/>
<circle cx="594.5" cy="407.2" r="3.35" fill="#fff" stroke="#111" stroke-width="1.0"/>
<circle cx="611.5" cy="418.5" r="3.35" fill="#fff" stroke="#111" stroke-width="1.0"/>
<circle cx="446.2" cy="523.8" r="3.5" fill="#fff" stroke="#000" stroke-width="1.7"/>
<circle cx="562" cy="396.6" r="3.5" fill="#fff" stroke="#000" stroke-width="1.7"/>
</svg>
</body></html>
